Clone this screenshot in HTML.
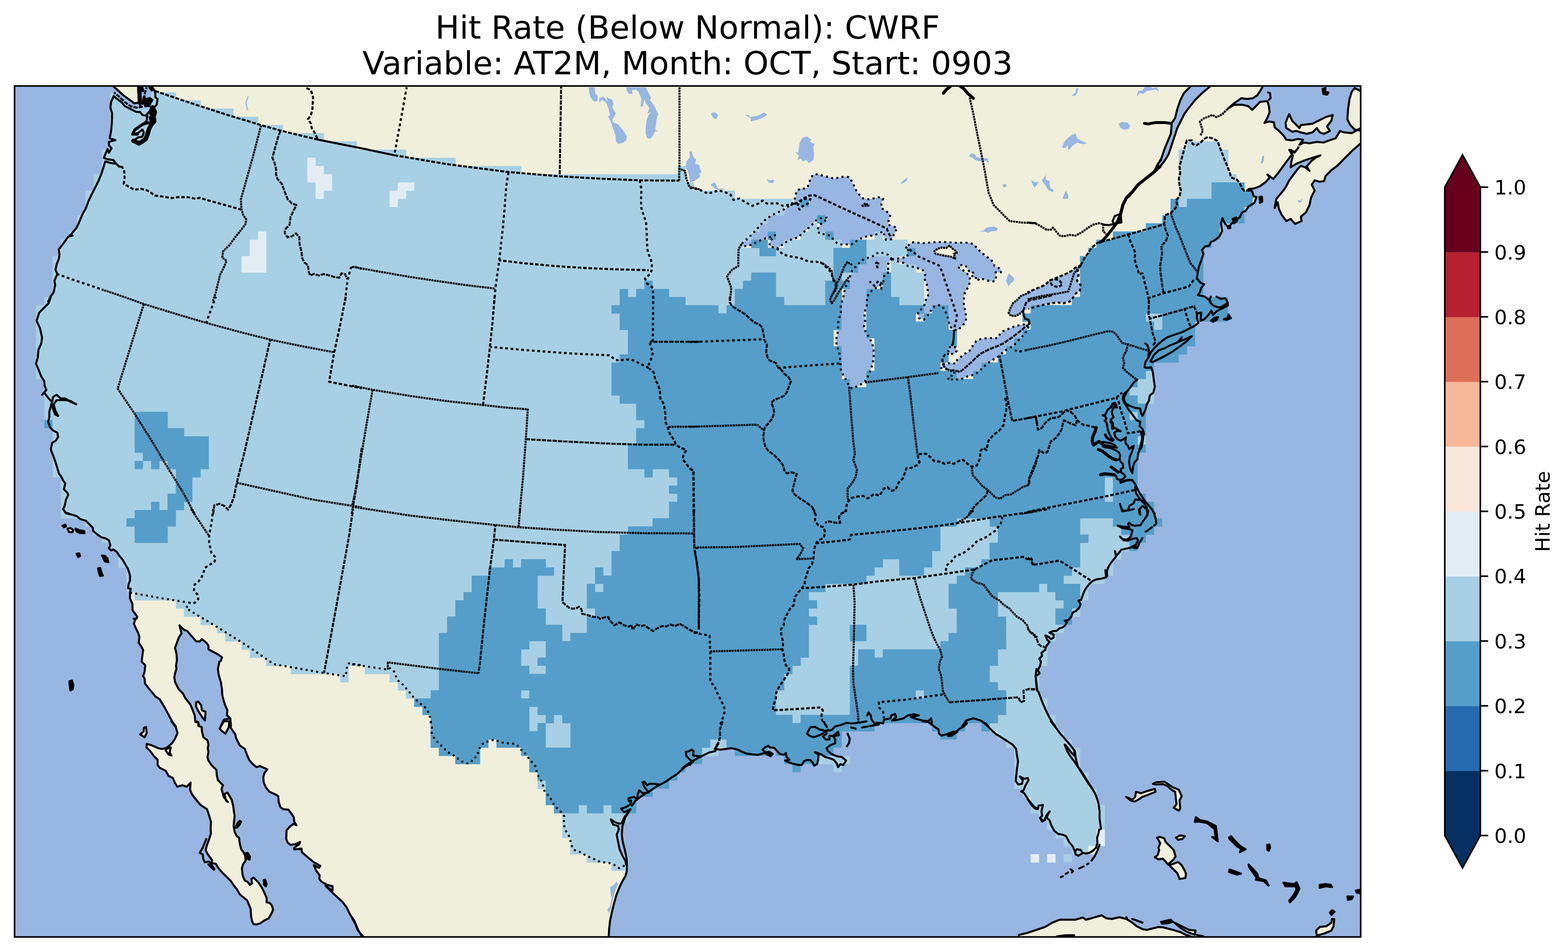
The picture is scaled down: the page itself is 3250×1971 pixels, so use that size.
<!DOCTYPE html>
<html lang="en"><head><meta charset="utf-8"><title>Hit Rate (Below Normal): CWRF</title>
<style>
html,body{margin:0;padding:0;background:#fff;}
body{width:3250px;height:1971px;overflow:hidden;}
svg{display:block;}
text{font-family:"DejaVu Sans","Liberation Sans",sans-serif;fill:#000;}
.cst{fill:none;stroke:#000;stroke-width:4.2;stroke-linejoin:round;stroke-linecap:round;}
.isl{fill:#efefdb;stroke:#000;stroke-width:4.2;stroke-linejoin:round;}
.st{fill:none;stroke:#000;stroke-width:4.2;stroke-dasharray:4.2 6.9;stroke-linejoin:round;}
.sol{fill:none;stroke:#000;stroke-width:4.2;}
.bd{fill:none;stroke:#000;stroke-width:4.2;stroke-dasharray:8.2 2.9;}
</style></head><body>
<svg width="3250" height="1971" viewBox="0 0 3250 1971">
<defs><clipPath id="fr"><rect x="30.2" y="178.2" width="2790.1" height="1763.7"/></clipPath></defs>
<rect width="3250" height="1971" fill="#fff"/>
<text x="1425.2" y="80.2" text-anchor="middle" font-size="66.67">Hit Rate (Below Normal): CWRF</text>
<text x="1425.2" y="153.8" text-anchor="middle" font-size="66.67">Variable: AT2M, Month: OCT, Start: 0903</text>
<rect x="30.2" y="178.2" width="2790.1" height="1763.7" fill="#97b6e1"/>
<g clip-path="url(#fr)">
<path fill="#efefdb" d="M2111.9,1937.8 2130,1933.3 2148.1,1927.2 2166.1,1921.2 2181.2,1912.2 2196.3,1906.1 2214.3,1906.1 2229.4,1906.1 2244.5,1901.6 2250.5,1906.1 2262.5,1903.1 2283.6,1897.1 2292.7,1903.1 2304.7,1904.6 2319.8,1901 2334.8,1904.6 2346.9,1912.2 2355.9,1919.7 2368,1925.7 2377,1927.2 2389,1924.2 2401.1,1921.2 2411.6,1922.1 2431.2,1927.2 2446.3,1931.7 2458.3,1937.8 2467.3,1940.8 2479.4,1946.8 2479.4,1952.8 2111.9,1952.8Z"/>
<path fill="#efefdb" d="M235.7,199.1 240.8,203.6 252.9,212.7 258.9,220.2 271,226.2 283,232.2 290.5,232.2 295.1,238.3 302.6,239.8 310.1,229.2 316.1,217.2 321.6,188.6 361.3,200.6 415.5,218.7 466.7,235.2 539,257.2 584.2,269.9 656.5,287.4 730,303 817.3,320.2 925.8,338.6 1053.8,355.1 1160.7,363.9 1242,368.7 1326.4,372.3 1407.7,372.9 1408.3,349.7 1419.8,354.2 1422.8,370.8 1428.8,387.3 1430,389.5 1448.1,392.5 1460.1,397.9 1467.7,401.5 1478.2,397.9 1490.2,394.9 1502.3,397.9 1514.3,403.9 1520.4,414.5 1532.4,411.4 1544.5,419 1559.5,426.5 1571.6,422 1580.6,416 1589.6,422 1610.7,421.4 1622.8,426.5 1640.8,423.5 1652.9,420.5 1638.8,425.3 1652.2,420.3 1667.3,410.3 1677.3,405.3 1687.4,404.4 1697.4,408.6 1717.5,417.8 1737.6,427.5 1757.7,436.6 1777.7,445.8 1797.8,454.6 1817.9,463.8 1827.9,468.8 1838,473.9 1842.2,483.9 1848,493.1 1876.7,512 1892.8,522.1 1904.8,532.1 1914.9,536.1 1924.9,541.2 1934.9,545.2 1946,550.2 1951,559.2 1955,569.3 1958,580.3 1962,590.4 1965.1,600.4 1969.1,610.4 1972.1,621.5 1976.1,631.5 1979.1,642.6 1983.1,652.6 1982.1,663.7 1979.1,674.7 1977.1,683.7 1977.1,683.7 1977.1,692.8 1976.7,700.8 1975.1,712.9 1972.1,716.9 1967.1,733.9 1959,733.9 1953,743 1954,753 1954,754 1959,763.1 1969.1,768.1 1979.1,767.1 1989.2,771.1 1998.2,764.1 2006.2,757 2014.3,750 2022.3,742 2031.3,733.9 2040.4,728.9 2050.4,723.9 2060.4,719.9 2070.5,715.9 2081.5,710.8 2089.6,704.8 2098.6,698.8 2107.6,691.8 2116.7,684.7 2125.7,676.7 2131.7,673.7 2134.7,671.7 2131.7,662.7 2124.7,660.6 2121.7,652.6 2120.7,644.6 2126.7,627.5 2135.7,621.5 2130,620.2 2160.1,613.3 2190.2,608.7 2214.3,604.2 2220.4,584.6 2226.4,566.6 2239.9,550 2239.9,550 2246,538 2253.5,527.4 2262.5,513.9 2274.6,503.3 2280.6,501.8 2310.7,493.7 2340.8,485.2 2375.5,475.6 2413.1,464.8 2414.6,446.1 2426.7,441.6 2434.2,434 2440.2,425 2437.2,416 2444.8,406.9 2447.8,394.9 2444.8,382.8 2443.3,370.8 2446.3,358.7 2444.8,345.2 2449.3,328.6 2453.8,312 2459.8,291 2470.4,291 2471.9,298.5 2479.4,301.5 2488.4,295.5 2496,288 2503.5,284 2514,287 2523.1,291.9 2527.6,303 2533.6,319.6 2539.6,334.6 2547.2,352.7 2551.7,367.8 2563.7,372.3 2569.8,379.8 2574.3,390.4 2578.8,394.9 2587.8,394.9 2595.4,396.4 2595.4,396.4 2598.4,406.9 2604.4,408.4 2599.9,420.5 2587.8,428 2581.8,437 2574.3,440.1 2569.8,450.6 2560.7,456.6 2551.7,464.2 2547.2,471.7 2539.6,464.2 2533.6,452.1 2530.6,462.7 2533,479.2 2527.6,489.8 2518.6,497.3 2509.5,501.8 2506.5,509.3 2497.5,510.8 2491.4,518.4 2494.5,525.9 2489.9,539.5 2485.4,551.5 2482.4,565.1 2480.9,577.1 2488.4,586.1 2496,589.2 2489.9,596.7 2486.9,605.7 2483,611.7 2497.5,614.8 2505,620.8 2509.5,625 2509.5,615 2506.5,622.5 2509.5,628.6 2517,634.6 2527.6,637.6 2536.6,633.1 2542.7,628.6 2545.1,633.1 2533.6,639.1 2521.6,645.1 2514,652.7 2511,643.6 2503.5,654.2 2496,661.7 2488.4,664.7 2489.9,648.1 2480.9,649.6 2480.9,660.2 2483.9,669.2 2476.4,675.2 2464.3,681.3 2449.3,688.8 2431.2,694.8 2419.2,699.3 2410.1,705.4 2401.1,712.9 2392,721.9 2386,729.5 2380,741.5 2374,750.5 2372.5,761.1 2378.5,762.6 2386,761.1 2389.6,771.6 2391.4,786.7 2393.6,801.7 2390.5,813.8 2383,819.8 2381.5,830.4 2377,837.9 2374,849.9 2355.9,871 2363.4,874 2361.9,883.1 2368,889.1 2371,898.1 2368,908.7 2364.9,919.2 2363.4,929.8 2358.9,940.3 2357.4,952.3 2351.4,958.4 2348.4,967.4 2346.9,979.5 2322.8,1000.5 2334.8,996 2346.9,995.1 2352.9,1003.6 2357.4,1012.6 2361.9,1021.6 2368,1030.7 2374,1039.7 2383,1050.2 2389,1057.8 2393.6,1065 2387.5,1055 2392,1064 2395.7,1076.1 2396.6,1085.1 2392,1089.6 2375.5,1101.7 2368,1115.2 2360.4,1130.3 2354.4,1131.8 2340.8,1135.7 2324.3,1139.3 2318.3,1146.9 2313.7,1151.4 2310.7,1142.3 2313.7,1152.9 2307.7,1160.4 2301.7,1168 2297.2,1175.5 2294.2,1184.5 2295.1,1193.6 2291.1,1181.5 2292.7,1196.6 2283.6,1199 2271.6,1201.1 2264,1204.7 2258,1210.1 2252,1217.7 2247.5,1225.2 2243.9,1234.2 2240.8,1243.3 2235.4,1244.8 2239.9,1252.3 2236.9,1259.8 2230.9,1265.8 2223.4,1269.5 2220.4,1277.9 2214.3,1285.4 2206.8,1286.3 2211.3,1289.9 2207.7,1296 2202.3,1300.5 2196.3,1302 2190.2,1307.4 2182.7,1308 2175.2,1311 2184.2,1315.5 2183.6,1321.6 2178.2,1324.6 2173.7,1320.1 2166.7,1317 2170.7,1326.1 2175.2,1330.6 2169.2,1338.1 2166.1,1347.2 2158.6,1353.2 2160.1,1359.2 2154.1,1365.2 2157.7,1371.3 2155.6,1380.3 2151.1,1389.3 2154.7,1395.4 2149.6,1399.9 2146.6,1401.4 2147.5,1413.4 2148.7,1428.5 2152.6,1434.5 2157.1,1446.6 2163.1,1461.6 2169.2,1475.2 2175.2,1487.2 2182.7,1499.3 2187.2,1505 2178.2,1495 2187.2,1507 2197.8,1520.6 2208.3,1532.7 2218.9,1544.7 2227.9,1556.7 2229.4,1570.3 2233.9,1588.4 2241.4,1598.9 2249,1611 2256.5,1623 2262.5,1632 2267,1639.6 2271.6,1648.6 2275.2,1659.2 2277.6,1669.7 2279.1,1681.7 2279.1,1696.8 2280.6,1707.3 2282.1,1717.9 2278.2,1719.4 2276.1,1729.9 2274,1736 2274.6,1748 2271.6,1757 2265.5,1763.1 2258,1767.6 2250.5,1769.1 2244.5,1767.6 2235.4,1773.6 2229.4,1770.6 2227.9,1764.6 2227.9,1764.6 2223.4,1754 2215.8,1745 2211.3,1736 2209.8,1733 2202.3,1729.9 2193.3,1728.4 2185.7,1722.4 2179.7,1711.9 2175.2,1699.8 2172.2,1697.4 2169.2,1693.8 2173.7,1684.8 2175.8,1681.7 2169.2,1689.3 2164.6,1699.8 2160.1,1702.8 2155.6,1695.3 2160.1,1690.8 2158.6,1681.7 2161.6,1668.2 2152.6,1669.7 2151.1,1677.2 2145.1,1675.7 2139,1669.7 2136.3,1663.7 2128.8,1653.1 2122.8,1644.1 2116.7,1640.2 2121.3,1638.1 2125.8,1627.5 2131.8,1617 2130.3,1612.5 2122.8,1614 2113.7,1609.5 2119.8,1617 2118.3,1624.5 2110.7,1626 2105.3,1618.5 2106.2,1609.5 2107.7,1594.4 2110.1,1577.8 2107.7,1564.3 2106.2,1552.2 2098.7,1543.2 2089.6,1537.2 2077.6,1529.6 2065.5,1522.1 2056.5,1514.6 2044.5,1502.5 2035.4,1495 2044.5,1500.8 2032.4,1493.3 2017.3,1488.7 2002.3,1493.3 2002.3,1495 2003.8,1499.5 1997.8,1505.5 1987.2,1511.6 1981.2,1517.6 1964.6,1525.1 1972.2,1525.1 1984.2,1516.7 1975.2,1516.7 1963.1,1521.5 1951.1,1524.5 1946.6,1520.6 1945.1,1511.6 1936,1505.5 1924,1496.5 1911.9,1495 1931.5,1497.8 1930,1488.7 1924,1494.8 1911.9,1493.3 1899.9,1490.2 1887.8,1486.3 1904.4,1482.7 1893.9,1480.3 1881.8,1482.7 1872.8,1488.7 1860.7,1491.7 1848.7,1493.3 1857.7,1485.7 1854.7,1479.7 1847.2,1482.7 1845.7,1488.7 1832.1,1491.7 1830.6,1499.3 1821.6,1497.8 1812.5,1499.3 1806.5,1491.7 1805,1482.7 1800.5,1476.7 1797.5,1482.7 1779.4,1498 1764.3,1499.5 1755.3,1498 1743.3,1502.5 1731.2,1505.5 1723.7,1513.1 1711.6,1514.6 1713.1,1520.6 1705.6,1526.6 1711.6,1532.7 1719.2,1532.7 1719.2,1525.1 1726.7,1525.1 1731.2,1532.7 1731.2,1540.2 1720.7,1544.7 1713.1,1550.7 1716.1,1556.7 1723.7,1562.8 1734.2,1567.3 1744.8,1568.8 1753.8,1576.3 1747.8,1585.4 1741.7,1583.9 1737.2,1589.9 1734.2,1582.3 1728.2,1574.8 1720.7,1571.8 1710.1,1568.8 1701.1,1562.8 1689,1558.9 1696.6,1564.3 1695.7,1574.8 1693.6,1583.9 1687.5,1586.9 1684.5,1580.8 1680,1575.7 1672.5,1574.8 1666.4,1577.8 1661.9,1585.4 1654.4,1585.4 1643.9,1583 1634.8,1579.9 1627.3,1576.3 1636.3,1574.8 1630.3,1568.8 1628.8,1560.7 1624.3,1564.3 1616.7,1562.8 1610.7,1556.7 1604.7,1549.8 1595.7,1549.2 1592.7,1545.6 1585.1,1549.2 1580.6,1553.7 1586.6,1559.8 1580.6,1561.9 1571.6,1564.3 1559.5,1563.7 1547.5,1561.9 1538.4,1558.3 1529.4,1553.7 1517.3,1550.7 1505.3,1552.2 1493.3,1553.7 1481.2,1552.2 1488.7,1541.7 1484.2,1549.2 1482.7,1556.7 1469.2,1559.8 1457.1,1565.8 1445.1,1571.8 1436,1577.8 1430,1585.4 1413.7,1594.4 1404.7,1603.4 1392.7,1611 1382.1,1618.5 1371.6,1624.5 1362.5,1629 1353.5,1635.1 1367,1626 1355,1624.5 1346,1624.5 1341.4,1627.5 1335.4,1620 1331.8,1621.5 1335.4,1630.5 1339.9,1636.6 1344.5,1642.6 1332.4,1644.1 1324.9,1638.1 1321.9,1645.6 1320.4,1657.7 1314.3,1651.6 1302.3,1654.6 1303.8,1660.7 1308.3,1659.2 1306.8,1666.7 1297.8,1672.7 1287.2,1675.7 1293.3,1683.3 1306.8,1677.2 1300.8,1684.8 1293.3,1695.3 1288.7,1705.8 1284.2,1707.3 1275.2,1704.3 1266.1,1698.3 1270.7,1708.9 1281.2,1711.9 1282.7,1719.4 1278.2,1729.9 1281.2,1745 1284.2,1760.1 1290.2,1773.6 1296.3,1784.2 1297.8,1791.7 1296.8,1793.7 1289.2,1798.2 1281.7,1801.2 1271.2,1793.7 1262.1,1790.7 1250.1,1789.2 1238,1786.8 1226,1780.1 1217,1777.1 1207.9,1771.7 1198.9,1766.6 1188.3,1763.6 1183.8,1754.5 1180.8,1742.5 1177.8,1733.4 1170.3,1721.4 1167.3,1707.8 1168.8,1694.3 1164.2,1686.8 1155.2,1679.2 1147.7,1670.2 1141.7,1659.7 1135.6,1650.6 1128.1,1643.1 1125.1,1632.5 1122.1,1622 1116,1613 1111.5,1602.4 1110,1591.9 1104,1583.7 1096.5,1576.8 1090.4,1566.3 1082.9,1558.7 1075.4,1552.7 1069.4,1544.6 1060.3,1542.8 1045.3,1542.2 1033.2,1539.2 1024.2,1534.7 1013.6,1537.7 1003.1,1540.7 995.6,1546.7 991,1557.2 988,1569.3 979,1575.3 974.5,1582.8 967,1584.3 959.4,1581.9 950.4,1575.9 939.8,1567.8 926.3,1560.3 915.7,1549.7 906.7,1540.7 897.7,1530.1 893.2,1519.6 894.1,1509 891.7,1497 893.2,1507 890.1,1487.7 885.6,1475.7 879.6,1467.2 870.6,1460.6 858.5,1450.1 846.5,1435 834.4,1421.5 822.4,1410.9 816.3,1394.3 807.3,1386.8 802.8,1389.8 729,1378.7 721.8,1376.9 718.8,1379.3 715.7,1403.4 670.6,1396.8 619.4,1387.7 566.7,1378.7 510.9,1340.1 450.7,1302.5 384.4,1262.4 392,1251.3 360.3,1246.2 330.2,1241.3 294.1,1234.7 268.5,1230.2 269.5,1228.2 271,1220.1 265.5,1219.2 266.4,1211.6 269.5,1202.6 269.5,1193.6 268,1187.5 264.9,1178.5 260.4,1171 254.4,1160.4 246.9,1151.4 242.3,1143.9 234.8,1138.7 230.3,1140.8 225.8,1136.3 228.8,1130.3 225.8,1119.8 219.8,1116.1 210.7,1113.7 201.7,1107.7 192.7,1100.2 192.7,1094.2 185.1,1086.6 177.6,1079.1 167,1076.1 159.5,1070.1 150.5,1067 136.9,1064 130.9,1055 135.4,1062.3 130.9,1054.8 133.9,1048.7 136.9,1035.2 141.4,1026.1 139.9,1021.6 132.4,1014.1 135.4,1002 130.9,996 126.4,987 121.9,981 118.9,970.4 114.3,955.4 109.8,943.3 105.3,931.3 108.3,917.7 115.8,913.2 120.4,905.7 118.9,896.6 109.8,892.1 103.8,886.1 99.9,874 102.3,865 102.3,853 106.8,836.4 109.8,846.9 114.3,859 120.4,862 114.3,849.9 111.3,837.9 117.3,829.5 132.4,828.9 144.5,830.4 158,837.9 144.5,831.9 135.4,825.8 126.4,825.8 117.3,818.3 109.8,822.8 108.3,833.4 100.8,825.8 91.7,813.8 87.2,818.3 96.3,807.8 92.7,800.2 91.7,789.7 85.7,780.7 79.7,765.6 74.6,753.6 78.2,741.5 79.7,724.9 85.7,711.4 87.2,699.3 82.7,679.8 75.8,664.7 81.2,648.1 90.2,639.1 100.8,628.6 105.3,615 103.8,616.3 111.3,605.7 114.3,590.7 112.8,581.6 118.9,568.1 114.9,559 117.3,548.5 121.9,536.4 123.4,527.4 121.9,516.9 132.4,503.3 141.4,490.7 150.5,488.3 143,489.8 149,483.7 158,473.2 162.5,464.2 170.1,446.1 177.6,432.5 183.6,416 194.2,394.9 204.7,373.8 210.7,358.7 218.3,334.6 228.8,337.7 215.2,327.1 222.8,309 225.8,316.6 231.2,306.9 225.8,301.5 225.8,294 239.3,290.4 227.3,286.4 230.3,271.4 231.8,253.3 232.4,235.2 228.8,223.2 230.3,211.1 235.7,199.1Z"/>
<path fill="#efefdb" d="M234.8,169 234.8,178.6 255.9,197.6 278.5,214.2 289,212.7 288.4,205.1 286.6,193.1 286,169Z"/>
<path fill="#efefdb" d="M313.1,169 313.1,178.6 316.1,181 321.6,188.6 361.3,202.1 415.5,220.2 466.7,236.7 539,258.7 584.2,271.4 656.5,288.9 730,304.5 817.3,321.7 925.8,340.1 1053.8,356.6 1160.7,365.4 1242,370.2 1326.4,373.8 1407.7,374.4 1408.3,349.7 1419.8,354.2 1422.8,370.8 1428.8,387.3 1430,389.5 1448.1,392.5 1460.1,397.9 1467.7,401.5 1478.2,397.9 1490.2,394.9 1502.3,397.9 1514.3,403.9 1520.4,414.5 1532.4,411.4 1544.5,419 1559.5,426.5 1571.6,422 1580.6,416 1589.6,422 1610.7,421.4 1622.8,426.5 1640.8,423.5 1652.9,420.5 1638.8,425.3 1652.2,420.3 1667.3,410.3 1677.3,405.3 1687.4,404.4 1697.4,408.6 1717.5,417.8 1737.6,427.5 1757.7,436.6 1777.7,445.8 1797.8,454.6 1817.9,463.8 1827.9,468.8 1838,473.9 1842.2,483.9 1848,493.1 1876.7,512 1892.8,522.1 1904.8,532.1 1914.9,536.1 1924.9,541.2 1934.9,545.2 1946,550.2 1951,559.2 1955,569.3 1958,580.3 1962,590.4 1965.1,600.4 1969.1,610.4 1972.1,621.5 1976.1,631.5 1979.1,642.6 1983.1,652.6 1982.1,663.7 1979.1,674.7 1977.1,683.7 1977.1,683.7 1977.1,692.8 1976.7,700.8 1975.1,712.9 1972.1,716.9 1967.1,733.9 1959,733.9 1953,743 1954,753 1954,754 1959,763.1 1969.1,768.1 1979.1,767.1 1989.2,771.1 1998.2,764.1 2006.2,757 2014.3,750 2022.3,742 2031.3,733.9 2040.4,728.9 2050.4,723.9 2060.4,719.9 2070.5,715.9 2081.5,710.8 2089.6,704.8 2098.6,698.8 2107.6,691.8 2116.7,684.7 2125.7,676.7 2131.7,673.7 2134.7,671.7 2131.7,662.7 2124.7,660.6 2121.7,652.6 2120.7,644.6 2126.7,627.5 2135.7,621.5 2130,620.2 2160.1,613.3 2190.2,608.7 2214.3,604.2 2220.4,584.6 2226.4,566.6 2239.9,550 2239.9,550 2246,538 2253.5,527.4 2262.5,513.9 2274.6,503.3 2280.6,501.8 2310.7,493.7 2340.8,485.2 2375.5,475.6 2413.1,464.8 2414.6,446.1 2426.7,441.6 2434.2,434 2440.2,425 2437.2,416 2444.8,406.9 2447.8,394.9 2444.8,382.8 2443.3,370.8 2446.3,358.7 2444.8,345.2 2449.3,328.6 2453.8,312 2459.8,291 2470.4,291 2471.9,298.5 2479.4,301.5 2488.4,295.5 2496,288 2503.5,284 2514,287 2523.1,291.9 2527.6,303 2533.6,319.6 2539.6,334.6 2547.2,352.7 2551.7,367.8 2563.7,372.3 2569.8,379.8 2574.3,390.4 2578.8,394.9 2587.8,394.9 2595.4,396.4 2595.4,396.4 2587.8,391.9 2599.9,390.4 2611.9,385.8 2624,376.8 2631.5,367.8 2627,361.7 2639,370.8 2648.1,360.2 2660.1,343.7 2669.2,331.6 2678.2,319.6 2675.2,310.5 2682.7,316.6 2688.7,309 2690.2,307.5 2690.2,307.5 2684.2,315.1 2672.2,310.5 2679.7,322.6 2676.7,334.6 2675.2,346.7 2687.2,339.2 2702.3,333.1 2720.4,327.1 2736.9,322 2726.4,327.1 2717.3,334.6 2708.3,345.2 2714.3,354.2 2705.3,346.7 2696.3,343.7 2690.2,349.7 2681.2,361.7 2672.2,373.8 2666.1,385.8 2660.1,394.9 2651.1,405.4 2645.1,413 2642,431 2648.1,419 2651.1,434 2657.1,446.1 2666.1,458.1 2675.2,453.6 2684.2,464.2 2697.8,458.1 2696.3,449.1 2706.8,440.1 2714.3,425 2717.3,409.9 2724.9,394.9 2718.9,382.8 2724.9,373.8 2735.4,376.8 2744.5,375.3 2747.5,364.8 2759.5,352.7 2771.6,343.7 2789.6,325.6 2804.7,310.5 2820.4,297 2828.8,297 2828.8,265.4 2820.4,265.4 2801.7,275.9 2786.6,274.4 2777.6,271.4 2768.6,286.4 2755,291 2743,295.5 2729.4,294 2714.3,297 2702.3,295.5 2693.3,300 2693.3,300 2700.8,289.5 2690.2,288 2678.2,291 2666.1,289.5 2660.1,280.4 2651.1,271.4 2642,263.9 2640.5,253.3 2630,251.8 2621,254.8 2627,244.3 2631.5,232.2 2630,220.2 2627,209.6 2611.9,211.1 2602.9,220.2 2595.4,227.7 2587.8,220.2 2575.8,217.2 2557.7,217.2 2545.7,224.7 2545.7,224.7 2557.7,214.2 2572.8,203.6 2584.8,205.1 2596.9,203.6 2605.9,197.6 2611.9,188.6 2616.4,181 2616.4,169Z"/>
<path fill="#efefdb" d="M269.5,1228.2 295.1,1232.7 331.2,1239.3 361.3,1244.2 393,1249.3 385.4,1260.4 451.7,1300.5 511.9,1338.1 567.7,1376.7 620.4,1385.7 671.6,1394.8 716.7,1401.4 719.8,1377.3 722.8,1374.9 730,1376.7 803.8,1387.8 808.3,1384.8 817.3,1392.3 823.4,1408.9 835.4,1419.5 847.5,1433 859.5,1448.1 871.6,1458.6 880.6,1465.2 886.6,1473.7 891.1,1485.7 894.2,1505 892.7,1495 895.1,1507 894.2,1517.6 898.7,1528.1 907.7,1538.7 916.7,1547.7 927.3,1558.3 940.8,1565.8 951.4,1573.9 960.4,1579.9 968,1582.3 975.5,1580.8 980,1573.3 989,1567.3 992,1555.2 996.6,1544.7 1004.1,1538.7 1014.6,1535.7 1025.2,1532.7 1034.2,1537.2 1046.3,1540.2 1061.3,1540.8 1070.4,1542.6 1076.4,1550.7 1083.9,1556.7 1091.4,1564.3 1097.5,1574.8 1105,1581.7 1111,1589.9 1112.5,1600.4 1117,1611 1123.1,1620 1126.1,1630.5 1129.1,1641.1 1136.6,1648.6 1142.7,1657.7 1148.7,1668.2 1156.2,1677.2 1165.2,1684.8 1169.8,1692.3 1168.3,1705.8 1171.3,1719.4 1178.8,1731.4 1181.8,1740.5 1184.8,1752.5 1189.3,1761.6 1199.9,1764.6 1208.9,1769.7 1218,1775.1 1227,1778.1 1239,1784.8 1251.1,1787.2 1263.1,1788.7 1272.2,1791.7 1282.7,1799.2 1290.2,1796.2 1297.8,1791.7 1299.3,1791.7 1299.3,1805.2 1296.3,1815.8 1290.2,1826.3 1284.2,1838.4 1278.2,1853.4 1273.7,1868.5 1269.2,1886.6 1264.6,1907.7 1262.5,1925.7 1261.6,1943.8 1261.6,1952.8 757.1,1952.8 752.9,1943.8 748.4,1937.8 742.3,1927.2 734.8,1909.2 725.8,1895.6 718.3,1880.5 710.7,1870 692.7,1853.4 674.6,1836 689,1845.9 689.6,1836.9 677.6,1833.9 667,1827.8 661.9,1821.8 662.5,1814.3 655,1803.7 650.5,1793.2 661,1798.6 664,1794.7 650.5,1787.2 641.4,1779.6 632.4,1772.1 625.8,1766.1 624.9,1758.6 609.8,1760.7 609.8,1757 620.4,1749.5 621.9,1745 612.8,1749.5 602.3,1751 596.3,1746.5 593.3,1739 593.9,1720.9 600.8,1713.4 608.3,1707.3 614.3,1710.4 609.8,1702.8 608.9,1693.8 603.8,1686.3 597.8,1678.1 587.2,1677.2 581.2,1672.7 577.6,1662.2 576.7,1650.1 569.2,1645.6 558.6,1641.1 551.1,1632 546.6,1621.5 545.7,1611 548.1,1601.9 554.1,1594.4 539,1587.8 531.5,1589.9 522.5,1582.3 516.4,1574.8 511.9,1564.3 507.4,1552.2 496.9,1544.7 489.3,1529.6 487.8,1522.1 477.3,1507 475.8,1495 478.8,1505 477.3,1488.7 470.4,1482.7 471.3,1472.2 466.7,1461.6 463.7,1452.6 460.7,1440.5 460.1,1428.5 457.7,1413.4 453.2,1398.4 451.7,1386.3 454.7,1371.3 457.7,1369.8 460.1,1362.2 451.7,1356.2 442.7,1351.7 432.1,1345.7 432.1,1338.1 427.6,1332.1 418.6,1324.6 414,1329.7 406.5,1329.1 396,1317 388.4,1308 380.9,1305 371.9,1296 371.9,1296 376.4,1312.5 370.4,1321.6 367.3,1330.6 362.8,1342.7 365.8,1354.7 366.7,1368.3 364.9,1380.3 365.8,1386.3 362.8,1395.4 361.3,1404.4 362.8,1413.4 367.3,1422.5 370.4,1428.5 379.4,1437.5 383.9,1446.6 394.5,1460.1 399,1470.7 403.5,1482.7 405,1496.3 411,1497.8 412.5,1505 405,1495 411,1496.5 411,1504 418,1507 418.6,1516.1 421.6,1528.1 430,1534.2 432.1,1543.2 430.6,1550.7 432.1,1558.3 430,1568.8 432.1,1576.3 438.1,1585.4 448.7,1595.9 449.3,1606.4 451.7,1617 462.2,1627.5 459.2,1635.1 463.7,1651.6 472.2,1662.2 468.3,1659.2 465.2,1645.6 471.3,1642.6 480.3,1657.7 483.3,1669.7 484.8,1681.7 486.3,1690.8 485.4,1699.8 484.2,1711.9 486.3,1723.9 490.8,1733 495.4,1736 496.9,1748 499.9,1760.1 504.4,1766.1 508.3,1773.6 508.9,1784.2 504.4,1790.2 501.4,1799.2 502.9,1814.3 507.4,1824.8 513.4,1827.8 518,1833.9 522.5,1830.8 521,1821.8 525.5,1818.8 536,1829.3 542,1838.4 548.1,1850.4 552.6,1861 552.6,1870 558.6,1871.5 563.1,1876 566.1,1885.1 563.1,1892.6 557.1,1903.1 548.1,1907.7 539,1913.7 531.5,1916.1 525.5,1915.2 522.5,1909.2 520.4,1898.6 519.5,1883.6 516.4,1876 511.9,1865.5 505.9,1861 496.9,1853.4 490.8,1842.9 484.8,1835.4 478.8,1826.3 466.7,1814.3 457.7,1805.2 451.7,1797.7 447.2,1790.2 438.1,1788.7 439.6,1782.7 430.6,1770.6 426.1,1761.6 429.1,1751 433.6,1739 437.2,1726.9 436.6,1719.4 437.2,1702.8 433.6,1690.8 429.1,1677.2 415.5,1668.2 406.5,1657.7 397.5,1645.6 393.9,1636.6 395.1,1622.1 386.9,1630.5 377.9,1627.5 367.3,1630.5 362.8,1623 358.3,1612.5 349.3,1608 343.3,1597.4 331.2,1591.4 326.7,1585.4 326.7,1574.8 319.2,1567.3 310.1,1555.2 303.5,1549.2 304.1,1541.7 310.1,1543.2 319.2,1546.8 328.2,1550.7 335.7,1552.2 343.3,1550.7 349.3,1546.8 356.8,1540.2 362.8,1531.1 368,1519.1 364.3,1507 355.3,1495 364.3,1505 358.3,1497.8 349.3,1481.2 340.2,1464.6 331.2,1449.6 322.2,1443.6 316.1,1436 307.1,1425.5 300.5,1416.4 299.6,1405.9 296.6,1401.4 299.6,1392.3 301.1,1378.8 293.6,1371.3 295.1,1359.2 296.6,1347.2 293.6,1341.1 287.5,1332.1 289,1320.1 286,1311 281.5,1302 277.6,1293 280,1284.5 277,1282.4 283,1282.4 284.5,1277.9 280,1271.9 274.6,1264.3 274.6,1252.3 269.5,1240.2 269.5,1228.2Z"/>
<path fill="#97b6e1" d="M1220.4,181 1233,181 1233.6,193.1 1239,199.1 1238.4,209.6 1231.5,210.5 1224,202.1 1221,190.1ZM1242,203.6 1251.1,200.6 1260.1,211.1 1257.1,202.1 1269.2,206.6 1271.6,214.2 1269.2,223.2 1276.7,235.2 1272.2,242.8 1269.2,247.3 1270.7,253.3 1281.2,257.8 1290.2,268.4 1299.3,281.9 1297.8,291 1290.2,296.4 1281.2,297.9 1276.7,292.5 1275.8,280.4 1269.2,262.3 1266.1,251.8 1260.1,241.3 1264.6,239.8 1261.6,226.2 1257.1,214.2 1248.1,206.6 1242,212.7ZM1297.8,181 1338.4,181 1344.5,193.1 1349,202.1 1347.5,208.1 1356.5,220.2 1364,236.7 1361,247.3 1358,268.4 1364,272.9 1358,272 1353.5,280.4 1349,287.3 1341.4,286.4 1338.4,277.4 1338.4,265.4 1339.9,250.3 1344.5,238.3 1350.5,230.7 1341.4,236.7 1346,223.2 1338.4,214.2 1335.4,205.1 1332.4,220.2 1327.9,221.7 1329.4,205.1 1323.4,190.1 1317.3,185.5 1309.8,187 1311.3,194.6 1303.8,194.6 1299.3,188.6ZM1473.1,235.2 1481.2,232.2 1488.7,238.3 1484.2,247.3 1478.2,244.3ZM1544.5,238.3 1552,238.3 1554.1,242.8 1571.6,239.8 1583.6,233.1 1590.5,237.7 1580.6,244.3 1568.6,248.8 1555.9,251.8 1556.5,244.9ZM1588.7,370.2 1594.2,373.8 1604.7,372.3 1602.3,379.8 1592.7,378.3ZM1472.2,382.8 1481.2,377.4 1485.7,385.8 1488.7,391.3 1505.3,391.3 1490.2,394.3 1481.2,390.4ZM1430,313.6 1434.5,325.6 1442,330.1 1440.5,340.7 1448.1,345.2 1454.1,355.7 1448.1,361.7 1452.6,364.8 1442,369.3 1436,376.8 1430,377.4ZM1648.4,315.1 1654.4,316.6 1657.4,295.5 1663.4,285.8 1672.5,282.8 1681.5,289.5 1678.5,294 1689,298.5 1685.4,304.5 1687.5,319.6 1686,331.6 1677,337.7 1671,331.6 1663.4,334.6 1660.4,328.6 1652.9,331.6 1655.9,322.6ZM2008.3,324.1 2012.8,318.1 2020.4,319 2023.4,325.6 2032.4,327.1 2047.5,328.6 2049.9,340.7 2044.5,333.1 2029.4,334 2020.4,331.6 2015.8,327.1ZM1865.2,381.3 1872.8,373.8 1881.8,367.8 1878.8,375.3 1871.3,379.8ZM2027.9,479.8 2038.4,477.7 2044.5,471.7 2059.5,469.6 2068.6,473.2 2065.5,478.6 2053.5,479.8 2047.5,482.8 2041.4,479.8ZM2077.6,382.8 2085.1,381.3 2086.6,385.8 2080.6,388.9ZM2137.8,373.8 2145.4,378.3 2149.9,376.8 2149.9,382.8 2144.5,388.3 2141.4,381.3ZM2091.1,566.6 2102.3,577.1 2097.2,584.6 2090.2,593.7 2085.1,581.6ZM1537.6,504.8 1546,497.3 1554.3,489.8 1561.9,482.2 1569.4,473.9 1576.9,465.5 1584.5,457.1 1592.8,450.4 1602,445.1 1612.1,440.4 1622.1,435.7 1631.3,429.5 1638.8,425.3 1645.5,417 1648.9,406.9 1650.6,396.1 1660.6,390.2 1666.5,391 1673.2,388.5 1677.3,380.2 1679,371 1685.7,361.8 1696.6,360.9 1707.5,365.1 1717.5,366.8 1727.5,370.1 1738.4,368.4 1748.5,365.9 1759.3,367.1 1765.2,375.1 1770.2,385.2 1774.4,394.4 1781.1,403.6 1788.6,411.1 1800.3,413.1 1811.2,411.1 1821.2,408.9 1830.4,411.6 1827.1,422 1826.3,431.2 1836.3,437.1 1845.5,445.1 1842.2,455.5 1840.5,465.5 1849.7,468.8 1858.9,471.4 1856.4,479.7 1851.4,488.9 1848,495.6 1836.3,497.3 1833,488.9 1831.3,479.7 1822.1,483.1 1811.2,488.1 1801.2,488.9 1791.1,491.4 1781.1,495.6 1771.9,502.3 1764.4,506.8 1753.5,506.5 1744.3,506.8 1735.1,504 1727.5,496.5 1720,488.1 1710,485.6 1699.1,484.7 1693.2,476.4 1699.1,467.2 1705.8,459.6 1715.8,453.8 1714.1,451.3 1703.3,451.6 1693.2,455.5 1684.9,463.8 1679,469.7 1670.6,476.9 1663.1,483.9 1654.7,491.1 1644.7,495.3 1633.8,498.1 1625.5,504.8 1616.3,510.7 1610.4,515.7 1602,512.4 1594.5,509.8 1596.2,500.6 1606.2,487.3 1600.4,490.6 1590.3,492.3 1581.1,496.5 1571.9,499.8 1561.9,505.7 1551.8,509 1541,510.7ZM1848.6,537.1 1840.6,528.1 1830.5,524.5 1820.5,523.1 1811.4,530.1 1801.4,533.7 1792.4,535.7 1784.3,541.2 1778.3,548.2 1772.3,554.2 1766.3,560.2 1762.2,572.3 1760.2,580.3 1754.2,590.4 1750.2,604.4 1747.2,618.5 1743.2,630.5 1742.2,640.6 1743.2,650.6 1738.2,660.6 1737.1,671.7 1737.1,682.7 1735.7,692.8 1733.1,703.8 1734.1,714.9 1737.1,723.9 1740.2,733.9 1741.2,745 1742.2,753 1742.2,763.1 1745.2,773.1 1751.2,783.1 1756.2,793.2 1760.2,800 1766.3,805.2 1778.3,800 1785.3,796.2 1792.4,791.2 1798.4,781.1 1802.4,771.5 1806.4,761 1809.4,751 1810.8,739 1810.8,727.9 1809.4,717.3 1805.4,706.8 1800.4,697.8 1794.4,687.8 1790.4,677.7 1793.4,666.7 1792.4,656.6 1791.4,647.6 1796,637.6 1797.4,626.5 1796.4,615.5 1802.4,608.4 1808.4,600.4 1820.5,594.4 1830.5,586.3 1833.5,568.3 1843.6,564.3 1841.6,559.2 1839.6,550.2 1843.6,541.2ZM1848.6,537.1 1860.6,536.1 1870.7,534.5 1880.7,532.1 1882.3,520.1 1881.1,512 1884.7,506 1892.8,502 1912.9,504 1934.9,502 1957,501.6 1981.1,503 2009.2,503 2019.3,507 2025.3,515.1 2034.3,523.1 2044.4,532.1 2053.4,537.1 2058.4,544.2 2061.4,551.2 2069.5,555.2 2075.5,559.2 2074.5,564.3 2063.5,564.3 2064.5,574.3 2061.4,583.3 2051.4,582.7 2039.4,579.3 2031.3,576.3 2025.3,582.3 2023.3,576.3 2014.3,574.3 2019.3,564.3 2012.2,566.3 2005.2,558.2 2001.2,550.2 1993.2,549.2 1985.1,553.2 1995.2,559.2 2003.2,565.3 2010.2,574.3 2010.2,585.3 2006.2,596.4 2000.2,604.4 1998.2,615.5 1997.2,626.5 1999.2,637.6 2001.2,648.6 2003.2,658.6 2000.2,668.7 1992.2,677.7 1985.1,684.7 1977.1,683.7 1969.1,676.7 1965.1,660.6 1961,649.6 1957,639.6 1949,632.5 1939,632.9 1930.9,640.6 1926.9,648.6 1920.9,655.6 1914.9,662.7 1904.8,659.6 1902.8,647.6 1909.8,640.6 1915.9,632.5 1918.9,621.5 1923.9,614.5 1922.9,603.4 1921.9,592.4 1917.9,582.3 1914.9,573.3 1917.9,569.3 1912.9,560.2 1902.8,556.2 1892.8,553.2 1881.7,551.2 1873.7,545.2 1862.7,542.2 1852.6,538.2ZM1967.1,720.9 1971.1,717.9 1981.1,719.9 1983.1,726.9 1979.1,732.9 1969.1,733.9 1965.1,726.9ZM1954,754 1961,754 1972.1,752 1981.1,754 1984.1,746 1991.2,740 2000.2,732.9 2009.2,727.9 2012.2,720.9 2017.3,715.9 2023.3,706.8 2033.3,702.8 2045.4,700.8 2055.4,700.8 2067.5,700.8 2071.5,693.8 2078.5,686.7 2089.6,681.7 2099.6,677.7 2109.6,674.7 2120.7,672.7 2129.7,670.7 2135.7,671.7 2129.7,681.7 2124.7,690.8 2117.7,698.8 2109.6,706.8 2101.6,715.9 2090.6,722.9 2081.5,726.9 2071.5,738 2060.4,744 2051.4,750 2042.4,757 2034.3,765.1 2027.3,772.1 2017.3,777.1 2005.2,780.1 1997.2,784.1 1987.1,787.1 1976.1,785.1 1967.1,789.2 1965.1,781.1 1978.1,777.1 1978.1,768.1 1967.1,769.1 1959,763.1 1951,763.1ZM2090.6,567.3 2096.6,573.3 2102.6,579.3 2099.6,584.3 2093.6,587.3 2090.6,593.4 2088.6,587.3 2085.1,583.9 2089.6,579.3ZM2467.3,175 2508,175 2491.4,193.1 2476.4,208.1 2464.3,223.2 2455.3,235.2 2446.3,253.3 2440.2,265.4 2434.2,283.4 2428.2,301.5 2422.2,319.6 2413.1,334.6 2404.1,345.2 2392,357.2 2398.1,343.7 2407.1,328.6 2413.1,310.5 2419.2,295.5 2426.7,277.4 2428.2,262.3 2428.2,255.7 2435.7,244.3 2440.2,226.2 2446.3,208.1 2453.8,193.1ZM2318.3,256.3 2325.8,252.7 2337.8,254.8 2342.3,260.8 2339.3,266.9 2330.3,269 2322.8,265.4ZM2201.4,306 2205.3,295.5 2211.3,288 2220.4,280.4 2229.4,276.8 2232.4,286.4 2239.9,291 2253.5,297 2244.5,299.1 2232.4,295.5 2223.4,301.5 2218.9,307.5 2214.3,312 2212.8,300 2208.3,306.9ZM2137.5,373.8 2145.1,377.4 2154.1,377.4 2148.1,382.2 2144.5,388.9 2140.5,382.8ZM2159.2,373.8 2168.6,362.3 2166.7,372.3 2175.2,375.3 2176.7,388.9 2184.8,394.9 2181.2,397.9 2172.2,393.4 2166.1,382.8ZM2202.3,411.4 2208.9,394.9 2214.3,403.9 2213.7,412.3ZM2221.9,197.6 2229.4,191.6 2230.9,182.5 2235.4,184 2232.4,193.1 2227.9,199.1ZM2355.9,200.6 2358.9,188.6 2368,187 2374,179.5 2383,179.5 2389,182.5 2398.1,181 2402.6,190.1 2395.1,185.5 2386,187 2377,188.6 2369.5,194.6 2361.9,193.1ZM2613.4,337.7 2616.4,324.1 2620.4,322.6 2619.5,333.1 2615.5,339.2ZM2689.6,414.5 2694.8,416 2699.3,411.4 2696.9,419 2691.7,419.6ZM2119.7,644.6 2114.7,649.6 2105.6,654.6 2095.6,654.6 2090.6,648.6 2094.6,637.6 2099.6,628.5 2108.6,621.5 2115.7,613.5 2125.7,609.4 2135.7,605.4 2130,605.7 2148.1,598.2 2166.1,590.7 2175.2,581.6 2190.2,575.6 2205.3,569.6 2220.4,562 2229.4,554.5 2239.9,550 2239.9,550 2232.4,563.6 2235.4,569.6 2232.4,581.6 2239.9,590.7 2238.4,602.7 2229.4,608.7 2223.4,617.8 2217.3,625 2205.3,628.3 2190.2,626.8 2163.9,631.5 2143.8,636.5 2131.7,640.6ZM1264.6,1838.4 1272.2,1833.9 1278.2,1827.8 1281.2,1832.3 1276.7,1841.4 1272.2,1856.4 1269.2,1868.5 1266.1,1883.6 1263.1,1892.6 1258.6,1886.6 1264.6,1877.5 1267.7,1861 1265.5,1850.4ZM1422.8,334.6 1430.3,325.6 1428.8,315.1 1433.3,313.6 1437.8,327.1 1443.3,330.1 1440.8,339.2 1449.9,342.2 1449.9,367.8 1437.8,376.2 1428.8,370.8 1426.4,355.7 1421.3,346.7Z"/>
<path fill="none" stroke="#97b6e1" stroke-width="2.5" stroke-linecap="round" d="M514,200.6 509.5,214.2 513.4,227.7"/>
<path fill="#efefdb" d="M1944,515.1 1953,513.1 1961,514.1 1968.1,509 1975.1,516.1 1981.1,520.1 1983.1,524.1 1977.1,526.1 1980.1,536.1 1971.1,532.1 1959,530.1 1949,528.1 1939,526.1 1936.9,520.1Z"/>
<path fill="#a7d0e4" d="M228.1,191.2h17.6v17.6h-17.6zM313.2,191.2h51.7v17.6h-51.7zM228.1,208.1h34.7v17.6h-34.7zM313.2,208.1h102.8v17.6h-102.8zM228.1,225.1h256.2v17.6h-256.2zM228.1,242.1h307.3v17.6h-307.3zM228.1,259.1h358.4v17.6h-358.4zM228.1,276.1h443.6v17.6h-443.6zM228.1,293h511.8v17.6h-511.8zM2460.1,293h68.8v17.6h-68.8zM211,310h631v17.6h-631zM2443.1,310h102.8v17.6h-102.8zM211,327h733.3v17.6h-733.3zM2443.1,327h102.8v17.6h-102.8zM211,344h869.6v17.6h-869.6zM1403.7,344h17.6v17.6h-17.6zM2443.1,344h102.8v17.6h-102.8zM194,361h1227.4v17.6h-1227.4zM2443.1,361h119.9v17.6h-119.9zM194,377.9h1244.4v17.6h-1244.4zM2443.1,377.9h136.9v17.6h-136.9zM176.9,394.9h1346.6v17.6h-1346.6zM2443.1,394.9h153.9v17.6h-153.9zM176.9,411.9h1465.9v17.6h-1465.9zM1659.3,411.9h17.6v17.6h-17.6zM2426,411.9h171v17.6h-171zM176.9,428.9h1448.9v17.6h-1448.9zM2426,428.9h153.9v17.6h-153.9zM159.9,445.9h1431.8v17.6h-1431.8zM1693.4,445.9h17.6v17.6h-17.6zM2409,445.9h171v17.6h-171zM159.9,462.8h1414.8v17.6h-1414.8zM1676.3,462.8h17.6v17.6h-17.6zM2374.9,462.8h153.9v17.6h-153.9zM142.9,479.8h1414.8v17.6h-1414.8zM1591.1,479.8h17.6v17.6h-17.6zM1659.3,479.8h68.8v17.6h-68.8zM1812.6,479.8h17.6v17.6h-17.6zM2306.8,479.8h222.1v17.6h-222.1zM125.8,496.8h1414.8v17.6h-1414.8zM1557.1,496.8h34.7v17.6h-34.7zM1625.2,496.8h119.9v17.6h-119.9zM1761.5,496.8h119.9v17.6h-119.9zM2272.7,496.8h239.1v17.6h-239.1zM125.8,513.8h1772.6v17.6h-1772.6zM2255.6,513.8h239.1v17.6h-239.1zM108.8,530.8h1687.4v17.6h-1687.4zM1846.7,530.8h17.6v17.6h-17.6zM2238.6,530.8h256.2v17.6h-256.2zM108.8,547.7h1670.4v17.6h-1670.4zM1846.7,547.7h51.7v17.6h-51.7zM2238.6,547.7h256.2v17.6h-256.2zM108.8,564.7h1653.3v17.6h-1653.3zM1829.7,564.7h85.8v17.6h-85.8zM2238.6,564.7h256.2v17.6h-256.2zM108.8,581.7h1653.3v17.6h-1653.3zM1829.7,581.7h85.8v17.6h-85.8zM2238.6,581.7h256.2v17.6h-256.2zM108.8,598.7h1636.3v17.6h-1636.3zM1795.6,598.7h119.9v17.6h-119.9zM2238.6,598.7h256.2v17.6h-256.2zM91.7,615.6h1653.3v17.6h-1653.3zM1795.6,615.6h119.9v17.6h-119.9zM2221.6,615.6h324.3v17.6h-324.3zM74.7,632.6h1670.4v17.6h-1670.4zM1795.6,632.6h119.9v17.6h-119.9zM1931.9,632.6h34.7v17.6h-34.7zM2136.4,632.6h409.5v17.6h-409.5zM74.7,649.6h1670.4v17.6h-1670.4zM1795.6,649.6h102.8v17.6h-102.8zM1914.9,649.6h51.7v17.6h-51.7zM2119.3,649.6h426.6v17.6h-426.6zM74.7,666.6h1670.4v17.6h-1670.4zM1795.6,666.6h171v17.6h-171zM2136.4,666.6h341.4v17.6h-341.4zM74.7,683.6h1653.3v17.6h-1653.3zM1795.6,683.6h188v17.6h-188zM2119.3,683.6h358.4v17.6h-358.4zM74.7,700.5h1653.3v17.6h-1653.3zM1812.6,700.5h171v17.6h-171zM2102.3,700.5h375.4v17.6h-375.4zM74.7,717.5h1670.4v17.6h-1670.4zM1812.6,717.5h153.9v17.6h-153.9zM2085.3,717.5h375.4v17.6h-375.4zM74.7,734.5h1670.4v17.6h-1670.4zM1812.6,734.5h153.9v17.6h-153.9zM2068.2,734.5h375.4v17.6h-375.4zM74.7,751.5h1670.4v17.6h-1670.4zM1812.6,751.5h136.9v17.6h-136.9zM2034.1,751.5h358.4v17.6h-358.4zM74.7,768.5h1670.4v17.6h-1670.4zM1795.6,768.5h188v17.6h-188zM2017.1,768.5h375.4v17.6h-375.4zM91.7,785.4h1670.4v17.6h-1670.4zM1795.6,785.4h597v17.6h-597zM91.7,802.4h2300.8v17.6h-2300.8zM91.7,819.4h2300.8v17.6h-2300.8zM91.7,836.4h2283.8v17.6h-2283.8zM91.7,853.4h2283.8v17.6h-2283.8zM91.7,870.3h2283.8v17.6h-2283.8zM108.8,887.3h2266.7v17.6h-2266.7zM108.8,904.3h2266.7v17.6h-2266.7zM108.8,921.3h2266.7v17.6h-2266.7zM108.8,938.3h2249.7v17.6h-2249.7zM108.8,955.2h2249.7v17.6h-2249.7zM108.8,972.2h2249.7v17.6h-2249.7zM125.8,989.2h2232.7v17.6h-2232.7zM125.8,1006.2h2232.7v17.6h-2232.7zM125.8,1023.1h2249.7v17.6h-2249.7zM125.8,1040.1h2266.7v17.6h-2266.7zM125.8,1057.1h2266.7v17.6h-2266.7zM176.9,1074.1h2232.7v17.6h-2232.7zM194,1091.1h2198.6v17.6h-2198.6zM211,1108h2164.5v17.6h-2164.5zM228.1,1125h2130.4v17.6h-2130.4zM245.1,1142h2079.3v17.6h-2079.3zM245.1,1159h2062.3v17.6h-2062.3zM262.1,1176h2045.2v17.6h-2045.2zM262.1,1192.9h2028.2v17.6h-2028.2zM262.1,1209.9h1994.1v17.6h-1994.1zM279.2,1226.9h1977.1v17.6h-1977.1zM364.4,1243.9h1874.8v17.6h-1874.8zM381.4,1260.9h1857.8v17.6h-1857.8zM415.5,1277.8h1806.7v17.6h-1806.7zM449.6,1294.8h1755.6v17.6h-1755.6zM466.6,1311.8h1721.5v17.6h-1721.5zM500.7,1328.8h1670.4v17.6h-1670.4zM517.7,1345.8h1653.3v17.6h-1653.3zM551.8,1362.7h1619.3v17.6h-1619.3zM602.9,1379.7h119.9v17.6h-119.9zM756.3,1379.7h1397.8v17.6h-1397.8zM705.1,1396.7h17.6v17.6h-17.6zM807.4,1396.7h1346.6v17.6h-1346.6zM824.4,1413.7h1329.6v17.6h-1329.6zM841.4,1430.6h1312.6v17.6h-1312.6zM858.5,1447.6h1312.6v17.6h-1312.6zM875.5,1464.6h1295.5v17.6h-1295.5zM892.6,1481.6h1295.5v17.6h-1295.5zM892.6,1498.6h920.7v17.6h-920.7zM1931.9,1498.6h68.8v17.6h-68.8zM2034.1,1498.6h153.9v17.6h-153.9zM892.6,1515.5h852.5v17.6h-852.5zM1949,1515.5h34.7v17.6h-34.7zM2068.2,1515.5h136.9v17.6h-136.9zM892.6,1532.5h119.9v17.6h-119.9zM1028.9,1532.5h716.2v17.6h-716.2zM2085.3,1532.5h136.9v17.6h-136.9zM909.6,1549.5h85.8v17.6h-85.8zM1080,1549.5h409.5v17.6h-409.5zM1523,1549.5h68.8v17.6h-68.8zM1608.2,1549.5h119.9v17.6h-119.9zM2102.3,1549.5h136.9v17.6h-136.9zM943.7,1566.5h51.7v17.6h-51.7zM1097,1566.5h358.4v17.6h-358.4zM1625.2,1566.5h136.9v17.6h-136.9zM2102.3,1566.5h136.9v17.6h-136.9zM1097,1583.5h324.3v17.6h-324.3zM1642.3,1583.5h17.6v17.6h-17.6zM1727.5,1583.5h17.6v17.6h-17.6zM2102.3,1583.5h136.9v17.6h-136.9zM1114.1,1600.4h290.3v17.6h-290.3zM2102.3,1600.4h153.9v17.6h-153.9zM1114.1,1617.4h273.2v17.6h-273.2zM2102.3,1617.4h153.9v17.6h-153.9zM1131.1,1634.4h222.1v17.6h-222.1zM2119.3,1634.4h153.9v17.6h-153.9zM1131.1,1651.4h188v17.6h-188zM2136.4,1651.4h136.9v17.6h-136.9zM1148.1,1668.4h171v17.6h-171zM2136.4,1668.4h153.9v17.6h-153.9zM1165.2,1685.3h136.9v17.6h-136.9zM2153.4,1685.3h136.9v17.6h-136.9zM1165.2,1702.3h119.9v17.6h-119.9zM2170.5,1702.3h119.9v17.6h-119.9zM1165.2,1719.3h119.9v17.6h-119.9zM2187.5,1719.3h102.8v17.6h-102.8zM1182.2,1736.3h102.8v17.6h-102.8zM2204.5,1736.3h85.8v17.6h-85.8zM1182.2,1753.3h102.8v17.6h-102.8zM2221.6,1753.3h51.7v17.6h-51.7zM1216.3,1770.2h85.8v17.6h-85.8zM2136.4,1770.2h17.6v17.6h-17.6zM2170.5,1770.2h17.6v17.6h-17.6zM2204.5,1770.2h17.6v17.6h-17.6zM1267.4,1787.2h34.7v17.6h-34.7z"/>
<path fill="#559ec9" d="M2511.2,377.9h68.5v17.3h-68.5zM2511.2,394.9h85.5v17.3h-85.5zM1659.3,411.9h17.3v17.3h-17.3zM2426,411.9h17.3v17.3h-17.3zM2460.1,411.9h136.6v17.3h-136.6zM2426,428.9h153.6v17.3h-153.6zM1693.4,445.9h17.3v17.3h-17.3zM2409,445.9h170.7v17.3h-170.7zM2374.9,462.8h153.6v17.3h-153.6zM1591.1,479.8h17.3v17.3h-17.3zM1710.4,479.8h17.3v17.3h-17.3zM2306.8,479.8h221.8v17.3h-221.8zM1557.1,496.8h34.4v17.3h-34.4zM1761.5,496.8h34.4v17.3h-34.4zM2272.7,496.8h238.8v17.3h-238.8zM1574.1,513.8h34.4v17.3h-34.4zM1727.5,513.8h68.5v17.3h-68.5zM1880.8,513.8h17.3v17.3h-17.3zM2255.6,513.8h238.8v17.3h-238.8zM1727.5,530.8h68.5v17.3h-68.5zM2238.6,530.8h255.9v17.3h-255.9zM1727.5,547.7h51.4v17.3h-51.4zM2238.6,547.7h255.9v17.3h-255.9zM1557.1,564.7h51.4v17.3h-51.4zM1727.5,564.7h17.3v17.3h-17.3zM1829.7,564.7h17.3v17.3h-17.3zM2238.6,564.7h255.9v17.3h-255.9zM1335.6,581.7h17.3v17.3h-17.3zM1540,581.7h68.5v17.3h-68.5zM1710.4,581.7h51.4v17.3h-51.4zM1829.7,581.7h17.3v17.3h-17.3zM2238.6,581.7h255.9v17.3h-255.9zM1284.4,598.7h17.3v17.3h-17.3zM1318.5,598.7h68.5v17.3h-68.5zM1523,598.7h85.5v17.3h-85.5zM1710.4,598.7h34.4v17.3h-34.4zM1795.6,598.7h51.4v17.3h-51.4zM2238.6,598.7h255.9v17.3h-255.9zM1284.4,615.6h136.6v17.3h-136.6zM1523,615.6h102.5v17.3h-102.5zM1710.4,615.6h34.4v17.3h-34.4zM1795.6,615.6h68.5v17.3h-68.5zM2221.6,615.6h324v17.3h-324zM1267.4,632.6h221.8v17.3h-221.8zM1505.9,632.6h238.8v17.3h-238.8zM1795.6,632.6h119.6v17.3h-119.6zM1931.9,632.6h34.4v17.3h-34.4zM2136.4,632.6h409.2v17.3h-409.2zM1284.4,649.6h460.3v17.3h-460.3zM1795.6,649.6h102.5v17.3h-102.5zM1914.9,649.6h51.4v17.3h-51.4zM2119.3,649.6h255.9v17.3h-255.9zM2409,649.6h136.6v17.3h-136.6zM1284.4,666.6h460.3v17.3h-460.3zM1795.6,666.6h170.7v17.3h-170.7zM2136.4,666.6h255.9v17.3h-255.9zM2409,666.6h68.5v17.3h-68.5zM1301.5,683.6h426.3v17.3h-426.3zM1795.6,683.6h187.7v17.3h-187.7zM2119.3,683.6h358.1v17.3h-358.1zM1301.5,700.5h426.3v17.3h-426.3zM1812.6,700.5h170.7v17.3h-170.7zM2102.3,700.5h375.1v17.3h-375.1zM1301.5,717.5h443.3v17.3h-443.3zM1812.6,717.5h153.6v17.3h-153.6zM2085.3,717.5h375.1v17.3h-375.1zM1284.4,734.5h460.3v17.3h-460.3zM1812.6,734.5h153.6v17.3h-153.6zM2068.2,734.5h375.1v17.3h-375.1zM1267.4,751.5h477.4v17.3h-477.4zM1812.6,751.5h136.6v17.3h-136.6zM2034.1,751.5h358.1v17.3h-358.1zM1267.4,768.5h477.4v17.3h-477.4zM1795.6,768.5h187.7v17.3h-187.7zM2017.1,768.5h358.1v17.3h-358.1zM1267.4,785.4h494.4v17.3h-494.4zM1795.6,785.4h562.6v17.3h-562.6zM1267.4,802.4h1073.7v17.3h-1073.7zM1284.4,819.4h1073.7v17.3h-1073.7zM1318.5,836.4h1056.7v17.3h-1056.7zM279.2,853.4h68.5v17.3h-68.5zM1318.5,853.4h1022.6v17.3h-1022.6zM2357.9,853.4h17.3v17.3h-17.3zM91.7,870.3h17.3v17.3h-17.3zM279.2,870.3h68.5v17.3h-68.5zM1335.6,870.3h1039.7v17.3h-1039.7zM279.2,887.3h102.5v17.3h-102.5zM1318.5,887.3h1056.7v17.3h-1056.7zM279.2,904.3h153.6v17.3h-153.6zM1318.5,904.3h1039.7v17.3h-1039.7zM279.2,921.3h153.6v17.3h-153.6zM1301.5,921.3h1073.7v17.3h-1073.7zM296.2,938.3h136.6v17.3h-136.6zM1301.5,938.3h1056.7v17.3h-1056.7zM279.2,955.2h17.3v17.3h-17.3zM313.2,955.2h17.3v17.3h-17.3zM347.3,955.2h85.5v17.3h-85.5zM1301.5,955.2h1056.7v17.3h-1056.7zM364.4,972.2h51.4v17.3h-51.4zM1335.6,972.2h17.3v17.3h-17.3zM1386.7,972.2h971.5v17.3h-971.5zM364.4,989.2h34.4v17.3h-34.4zM1403.7,989.2h886.3v17.3h-886.3zM2306.8,989.2h51.4v17.3h-51.4zM364.4,1006.2h34.4v17.3h-34.4zM1386.7,1006.2h903.3v17.3h-903.3zM2306.8,1006.2h51.4v17.3h-51.4zM347.3,1023.1h51.4v17.3h-51.4zM1403.7,1023.1h886.3v17.3h-886.3zM2306.8,1023.1h68.5v17.3h-68.5zM313.2,1040.1h17.3v17.3h-17.3zM347.3,1040.1h34.4v17.3h-34.4zM1386.7,1040.1h1005.6v17.3h-1005.6zM279.2,1057.1h85.5v17.3h-85.5zM1386.7,1057.1h1005.6v17.3h-1005.6zM262.1,1074.1h102.5v17.3h-102.5zM1352.6,1074.1h630.7v17.3h-630.7zM2051.2,1074.1h187.7v17.3h-187.7zM2306.8,1074.1h102.5v17.3h-102.5zM279.2,1091.1h68.5v17.3h-68.5zM1301.5,1091.1h647.8v17.3h-647.8zM2068.2,1091.1h170.7v17.3h-170.7zM2323.8,1091.1h68.5v17.3h-68.5zM279.2,1108h68.5v17.3h-68.5zM1284.4,1108h664.8v17.3h-664.8zM2068.2,1108h187.7v17.3h-187.7zM2340.8,1108h34.4v17.3h-34.4zM1284.4,1125h664.8v17.3h-664.8zM2051.2,1125h187.7v17.3h-187.7zM2340.8,1125h17.3v17.3h-17.3zM1267.4,1142h664.8v17.3h-664.8zM2051.2,1142h187.7v17.3h-187.7zM1045.9,1159h17.3v17.3h-17.3zM1080,1159h51.4v17.3h-51.4zM1267.4,1159h562.6v17.3h-562.6zM1863.8,1159h68.5v17.3h-68.5zM2034.1,1159h204.8v17.3h-204.8zM1011.8,1176h136.6v17.3h-136.6zM1233.3,1176h17.3v17.3h-17.3zM1267.4,1176h545.5v17.3h-545.5zM1863.8,1176h51.4v17.3h-51.4zM2000.1,1176h221.8v17.3h-221.8zM977.8,1192.9h136.6v17.3h-136.6zM1233.3,1192.9h562.6v17.3h-562.6zM1983,1192.9h221.8v17.3h-221.8zM977.8,1209.9h136.6v17.3h-136.6zM1216.3,1209.9h17.3v17.3h-17.3zM1250.4,1209.9h460.3v17.3h-460.3zM1966,1209.9h187.7v17.3h-187.7zM2170.5,1209.9h68.5v17.3h-68.5zM960.7,1226.9h153.6v17.3h-153.6zM1216.3,1226.9h460.3v17.3h-460.3zM1966,1226.9h102.5v17.3h-102.5zM2187.5,1226.9h51.4v17.3h-51.4zM943.7,1243.9h170.7v17.3h-170.7zM1216.3,1243.9h477.4v17.3h-477.4zM1966,1243.9h102.5v17.3h-102.5zM2204.5,1243.9h34.4v17.3h-34.4zM943.7,1260.9h187.7v17.3h-187.7zM1233.3,1260.9h443.3v17.3h-443.3zM1983,1260.9h85.5v17.3h-85.5zM2187.5,1260.9h34.4v17.3h-34.4zM926.6,1277.8h204.8v17.3h-204.8zM1216.3,1277.8h477.4v17.3h-477.4zM1983,1277.8h102.5v17.3h-102.5zM2187.5,1277.8h34.4v17.3h-34.4zM926.6,1294.8h238.8v17.3h-238.8zM1216.3,1294.8h460.3v17.3h-460.3zM1761.5,1294.8h34.4v17.3h-34.4zM1983,1294.8h102.5v17.3h-102.5zM909.6,1311.8h255.9v17.3h-255.9zM1182.2,1311.8h494.4v17.3h-494.4zM1761.5,1311.8h34.4v17.3h-34.4zM1966,1311.8h119.6v17.3h-119.6zM909.6,1328.8h187.7v17.3h-187.7zM1131.1,1328.8h545.5v17.3h-545.5zM1949,1328.8h136.6v17.3h-136.6zM909.6,1345.8h170.7v17.3h-170.7zM1131.1,1345.8h545.5v17.3h-545.5zM1778.6,1345.8h34.4v17.3h-34.4zM1829.7,1345.8h238.8v17.3h-238.8zM909.6,1362.7h170.7v17.3h-170.7zM1114.1,1362.7h545.5v17.3h-545.5zM1778.6,1362.7h290v17.3h-290zM909.6,1379.7h187.7v17.3h-187.7zM1131.1,1379.7h511.5v17.3h-511.5zM1761.5,1379.7h290v17.3h-290zM909.6,1396.7h715.9v17.3h-715.9zM1761.5,1396.7h290v17.3h-290zM909.6,1413.7h715.9v17.3h-715.9zM1761.5,1413.7h307v17.3h-307zM892.6,1430.6h187.7v17.3h-187.7zM1097,1430.6h511.5v17.3h-511.5zM1761.5,1430.6h136.6v17.3h-136.6zM1914.9,1430.6h170.7v17.3h-170.7zM858.5,1447.6h750v17.3h-750zM1761.5,1447.6h324v17.3h-324zM875.5,1464.6h221.8v17.3h-221.8zM1114.1,1464.6h494.4v17.3h-494.4zM1761.5,1464.6h324v17.3h-324zM892.6,1481.6h204.8v17.3h-204.8zM1131.1,1481.6h17.3v17.3h-17.3zM1165.2,1481.6h477.4v17.3h-477.4zM1659.3,1481.6h409.2v17.3h-409.2zM892.6,1498.6h204.8v17.3h-204.8zM1114.1,1498.6h17.3v17.3h-17.3zM1182.2,1498.6h630.7v17.3h-630.7zM1931.9,1498.6h68.5v17.3h-68.5zM2034.1,1498.6h17.3v17.3h-17.3zM892.6,1515.5h238.8v17.3h-238.8zM1182.2,1515.5h562.6v17.3h-562.6zM1949,1515.5h34.4v17.3h-34.4zM892.6,1532.5h119.6v17.3h-119.6zM1028.9,1532.5h102.5v17.3h-102.5zM1182.2,1532.5h290v17.3h-290zM1505.9,1532.5h238.8v17.3h-238.8zM909.6,1549.5h85.5v17.3h-85.5zM1080,1549.5h375.1v17.3h-375.1zM1523,1549.5h68.5v17.3h-68.5zM1608.2,1549.5h119.6v17.3h-119.6zM943.7,1566.5h51.4v17.3h-51.4zM1097,1566.5h358.1v17.3h-358.1zM1625.2,1566.5h68.5v17.3h-68.5zM1097,1583.5h324v17.3h-324zM1642.3,1583.5h17.3v17.3h-17.3zM1114.1,1600.4h290v17.3h-290zM1131.1,1617.4h255.9v17.3h-255.9zM1131.1,1634.4h221.8v17.3h-221.8zM1131.1,1651.4h187.7v17.3h-187.7zM1148.1,1668.4h51.4v17.3h-51.4zM1216.3,1668.4h34.4v17.3h-34.4zM1267.4,1668.4h51.4v17.3h-51.4z"/>
<path fill="#e2edf3" d="M637,327h17.3v17.3h-17.3zM637,344h34.4v17.3h-34.4zM637,361h51.4v17.3h-51.4zM654,377.9h34.4v17.3h-34.4zM824.4,377.9h34.4v17.3h-34.4zM654,394.9h17.3v17.3h-17.3zM807.4,394.9h34.4v17.3h-34.4zM807.4,411.9h17.3v17.3h-17.3zM534.7,479.8h17.3v17.3h-17.3zM517.7,496.8h34.4v17.3h-34.4zM517.7,513.8h34.4v17.3h-34.4zM500.7,530.8h51.4v17.3h-51.4zM500.7,547.7h51.4v17.3h-51.4zM2272.7,1719.3h17.3v17.3h-17.3zM2272.7,1736.3h17.3v17.3h-17.3zM2255.6,1753.3h17.3v17.3h-17.3zM2136.4,1770.2h17.3v17.3h-17.3zM2170.5,1770.2h17.3v17.3h-17.3z"/>
<path class="isl" d="M302.6,205.1 310.1,203.6 314.6,208.1 310.1,212.7 304.1,211.1ZM308.6,232.2 317.7,226.2 320.7,235.2 313.1,238.3ZM310.1,242.8 319.2,241.3 320.7,251.8 313.1,254.8ZM2672.2,236.7 2678.2,250.3 2687.2,259.3 2693.3,265.4 2696.3,259.3 2708.3,257.8 2720.4,256.3 2732.4,250.3 2747.5,242.8 2762.5,238.3 2759.5,250.3 2750.5,262.3 2756.5,271.4 2744.5,277.4 2735.4,274.4 2729.4,265.4 2720.4,274.4 2708.3,277.4 2696.3,274.4 2687.2,271.4 2678.2,272.9 2666.1,265.4 2664.6,254.8 2669.2,242.8ZM2807.7,182.5 2822.8,190.1 2822.8,271.4 2807.7,268.4 2798.7,259.3 2792.7,247.3 2794.2,226.2 2797.2,205.1 2801.7,190.1ZM406.5,1455.6 411,1454.1 417,1461.6 418.6,1472.2 426.1,1475.2 424.6,1493.3 418.6,1485.7 411,1473.7 406.5,1464.6ZM139.9,1095.7 146,1094.2 152,1098.7 149.9,1103.2 143,1102.6ZM290.5,1522.1 297.5,1516.1 298.1,1508.6 302.6,1507 304.1,1519.1 299.6,1528.1ZM455.3,1510.1 463.7,1495 475.2,1495 474.3,1507 467.3,1520.6 459.2,1514.6ZM2334.2,1651.6 2346.9,1657.7 2352.9,1651.6 2354.4,1641.1 2364.9,1644.1 2377,1639.6 2393.6,1635.1 2395.1,1641.1 2380,1647.1 2368,1651.6 2358.9,1657.7 2351.4,1661.3 2343.9,1659.2ZM2389.6,1624.5 2395.1,1621.5 2413.1,1620 2422.2,1626 2431.2,1632 2443.3,1636.6 2449.3,1650.1 2444.8,1659.2 2446.3,1675.7 2443.3,1680.2 2432.7,1674.2 2438.7,1666.7 2437.2,1654.6 2435.7,1641.1 2428.2,1636.6 2419.2,1629 2410.1,1625.1 2396.6,1626ZM2398.1,1736 2404.1,1734.5 2413.1,1737.5 2416.1,1745 2425.2,1754 2432.7,1761.6 2436.6,1775.1 2431.2,1782.7 2420.7,1791.7 2414.6,1784.2 2410.1,1779.6 2401.1,1781.1 2393.6,1776.6 2399.6,1772.1 2402.6,1761.6 2401.1,1757 2404.7,1748 2401.1,1740.5ZM2423.7,1793.2 2441.7,1786.6 2449.3,1793.2 2455.3,1803.7 2458.3,1811.3 2456.8,1819.7 2444.8,1821.8 2440.2,1809.8 2432.7,1802.2ZM2437.2,1736 2446.3,1731.4 2455.9,1733 2450.8,1739 2441.7,1740.5ZM2727.9,1928.7 2735.4,1921.2 2749,1919.7 2759.5,1912.2 2761,1904.6 2765.5,1905.2 2764,1919.7 2759.5,1928.7 2744.5,1934.8 2729.4,1939.3ZM2434.2,1912.2 2449.3,1919.7 2464.3,1927.2 2477.9,1928.7 2476.4,1937.2 2461.3,1931.7 2446.3,1922.7Z"/>
<path class="isl" style="fill:#000" d="M298.1,211.1 302.6,209.6 305.6,218.7 301.1,220.2ZM2554.7,453.6 2562.2,450.6 2563.7,458.1 2557.7,462.7ZM2545.1,468.7 2549.3,467.2 2550.2,472.6 2545.7,473.2ZM2610.4,408.4 2615.5,407.5 2616.4,417.5 2611.9,420.5ZM2741.4,184 2747.5,182.5 2746,190.1 2753.5,191.6 2750.5,196.1 2743,194.6ZM2510.1,664.7 2517,658.7 2524.6,657.2 2521.6,663.2 2514,666.8ZM2536.6,661.7 2545.1,658.7 2546.3,651.7 2551.1,659.6 2542.7,662.6ZM129.4,1089.6 135.4,1087.5 136.9,1091.1 132.4,1092.7ZM156.5,1095.7 164,1098.7 174.6,1100.8 175.2,1105 165.5,1104.7 158.9,1101.7ZM158.6,1147.8 164,1146.9 166.1,1152 161.9,1154.4ZM211.3,1151.4 217.3,1152 222.8,1157.4 224.6,1165.2 217.3,1163.4 214.3,1157.4ZM203.2,1177.9 207.7,1177 210.1,1186 213.1,1193 207.1,1193.6 204.7,1186ZM143.9,1411.9 149,1410.4 152,1419.5 150.5,1428.5 146,1430.9 144.5,1421ZM488.4,1714.9 492.3,1705.8 496.9,1701.3 499.9,1702.8 496.3,1709.5 490.8,1715.5ZM508.9,1768.5 513.4,1767.6 518,1775.1 517.3,1781.7 511.9,1779.6ZM546.6,1823.9 549.6,1823.3 552.6,1832.3 551.1,1836.9 547.5,1833.9ZM1586.6,1559.8 1594.2,1557.7 1601.7,1562.8 1597.2,1567.3 1589.6,1563.7ZM2476.4,1702.8 2478.8,1693.8 2486.9,1699.8 2502,1702.8 2520.1,1711.9 2521.6,1723.9 2523.1,1736 2524,1743.5 2512.5,1734.5 2520.1,1736 2517,1717.9 2502,1705.8 2485.4,1702.8 2477,1703.4ZM2547.2,1736 2551.7,1733 2560.7,1743.5 2571.3,1754 2581.8,1760.1 2569.8,1766.1 2572.8,1759.5 2563.7,1754 2554.7,1745 2548.7,1739ZM2626.4,1751 2631.5,1750.4 2632.4,1757 2630,1763.1 2627,1761.6ZM2547.2,1806.7 2548.7,1802.2 2557.7,1805.2 2572.2,1810.7 2563.7,1812.8 2554.7,1809.8ZM2587.8,1791.7 2596.9,1800.7 2605.9,1811.3 2608.9,1820.3 2624,1824.8 2629.4,1835.4 2619.5,1826.3 2602.9,1823.3 2604.4,1818.8 2596.9,1808.3 2589.3,1797.7ZM2660.1,1829.3 2669.2,1830.8 2682.7,1832.3 2687.2,1828.7 2693.3,1841.4 2688.7,1851.9 2682.7,1861 2673.7,1870 2672.2,1867 2681.2,1854.9 2687.2,1844.4 2685.7,1836.9 2676.7,1836.9 2664.6,1836.9ZM2735.4,1833.9 2747.5,1832.3 2758,1833.9 2761,1838.4 2747.5,1836.9 2735.4,1839.9ZM2792.7,1858 2804.7,1858 2801.7,1863.1 2794.2,1864.9ZM2810.1,1845.9 2818.3,1844.4 2819.8,1851.9 2812.2,1849.8ZM2756.5,1891.1 2761,1886.6 2766.1,1889.6 2759.5,1896.2ZM2406.5,1910.7 2426.7,1906.1 2431.2,1910.7 2419.2,1913.7 2408.6,1914.3Z"/>
<path class="st" d="M1537.6,504.8 1546,497.3 1554.3,489.8 1561.9,482.2 1569.4,473.9 1576.9,465.5 1584.5,457.1 1592.8,450.4 1602,445.1 1612.1,440.4 1622.1,435.7 1631.3,429.5 1638.8,425.3 1645.5,417 1648.9,406.9 1650.6,396.1 1660.6,390.2 1666.5,391 1673.2,388.5 1677.3,380.2 1679,371 1685.7,361.8 1696.6,360.9 1707.5,365.1 1717.5,366.8 1727.5,370.1 1738.4,368.4 1748.5,365.9 1759.3,367.1 1765.2,375.1 1770.2,385.2 1774.4,394.4 1781.1,403.6 1788.6,411.1 1800.3,413.1 1811.2,411.1 1821.2,408.9 1830.4,411.6 1827.1,422 1826.3,431.2 1836.3,437.1 1845.5,445.1 1842.2,455.5 1840.5,465.5 1849.7,468.8 1858.9,471.4 1856.4,479.7 1851.4,488.9 1848,495.6 1836.3,497.3 1833,488.9 1831.3,479.7 1822.1,483.1 1811.2,488.1 1801.2,488.9 1791.1,491.4 1781.1,495.6 1771.9,502.3 1764.4,506.8 1753.5,506.5 1744.3,506.8 1735.1,504 1727.5,496.5 1720,488.1 1710,485.6 1699.1,484.7 1693.2,476.4 1699.1,467.2 1705.8,459.6 1715.8,453.8 1714.1,451.3 1703.3,451.6 1693.2,455.5 1684.9,463.8 1679,469.7 1670.6,476.9 1663.1,483.9 1654.7,491.1 1644.7,495.3 1633.8,498.1 1625.5,504.8 1616.3,510.7 1610.4,515.7 1602,512.4 1594.5,509.8 1596.2,500.6 1606.2,487.3 1600.4,490.6 1590.3,492.3 1581.1,496.5 1571.9,499.8 1561.9,505.7 1551.8,509 1541,510.7 1537.6,504.8M1848.6,537.1 1840.6,528.1 1830.5,524.5 1820.5,523.1 1811.4,530.1 1801.4,533.7 1792.4,535.7 1784.3,541.2 1778.3,548.2 1772.3,554.2 1766.3,560.2 1762.2,572.3 1760.2,580.3 1754.2,590.4 1750.2,604.4 1747.2,618.5 1743.2,630.5 1742.2,640.6 1743.2,650.6 1738.2,660.6 1737.1,671.7 1737.1,682.7 1735.7,692.8 1733.1,703.8 1734.1,714.9 1737.1,723.9 1740.2,733.9 1741.2,745 1742.2,753 1742.2,763.1 1745.2,773.1 1751.2,783.1 1756.2,793.2 1760.2,800 1766.3,805.2 1778.3,800 1785.3,796.2 1792.4,791.2 1798.4,781.1 1802.4,771.5 1806.4,761 1809.4,751 1810.8,739 1810.8,727.9 1809.4,717.3 1805.4,706.8 1800.4,697.8 1794.4,687.8 1790.4,677.7 1793.4,666.7 1792.4,656.6 1791.4,647.6 1796,637.6 1797.4,626.5 1796.4,615.5 1802.4,608.4 1808.4,600.4 1820.5,594.4 1830.5,586.3 1833.5,568.3 1843.6,564.3 1841.6,559.2 1839.6,550.2 1843.6,541.2 1848.6,537.1M1848.6,537.1 1860.6,536.1 1870.7,534.5 1880.7,532.1 1882.3,520.1 1881.1,512 1884.7,506 1892.8,502 1912.9,504 1934.9,502 1957,501.6 1981.1,503 2009.2,503 2019.3,507 2025.3,515.1 2034.3,523.1 2044.4,532.1 2053.4,537.1 2058.4,544.2 2061.4,551.2 2069.5,555.2 2075.5,559.2 2074.5,564.3 2063.5,564.3 2064.5,574.3 2061.4,583.3 2051.4,582.7 2039.4,579.3 2031.3,576.3 2025.3,582.3 2023.3,576.3 2014.3,574.3 2019.3,564.3 2012.2,566.3 2005.2,558.2 2001.2,550.2 1993.2,549.2 1985.1,553.2 1995.2,559.2 2003.2,565.3 2010.2,574.3 2010.2,585.3 2006.2,596.4 2000.2,604.4 1998.2,615.5 1997.2,626.5 1999.2,637.6 2001.2,648.6 2003.2,658.6 2000.2,668.7 1992.2,677.7 1985.1,684.7 1977.1,683.7 1969.1,676.7 1965.1,660.6 1961,649.6 1957,639.6 1949,632.5 1939,632.9 1930.9,640.6 1926.9,648.6 1920.9,655.6 1914.9,662.7 1904.8,659.6 1902.8,647.6 1909.8,640.6 1915.9,632.5 1918.9,621.5 1923.9,614.5 1922.9,603.4 1921.9,592.4 1917.9,582.3 1914.9,573.3 1917.9,569.3 1912.9,560.2 1902.8,556.2 1892.8,553.2 1881.7,551.2 1873.7,545.2 1862.7,542.2 1852.6,538.2 1848.6,537.1M1967.1,720.9 1971.1,717.9 1981.1,719.9 1983.1,726.9 1979.1,732.9 1969.1,733.9 1965.1,726.9 1967.1,720.9M1954,754 1961,754 1972.1,752 1981.1,754 1984.1,746 1991.2,740 2000.2,732.9 2009.2,727.9 2012.2,720.9 2017.3,715.9 2023.3,706.8 2033.3,702.8 2045.4,700.8 2055.4,700.8 2067.5,700.8 2071.5,693.8 2078.5,686.7 2089.6,681.7 2099.6,677.7 2109.6,674.7 2120.7,672.7 2129.7,670.7 2135.7,671.7 2129.7,681.7 2124.7,690.8 2117.7,698.8 2109.6,706.8 2101.6,715.9 2090.6,722.9 2081.5,726.9 2071.5,738 2060.4,744 2051.4,750 2042.4,757 2034.3,765.1 2027.3,772.1 2017.3,777.1 2005.2,780.1 1997.2,784.1 1987.1,787.1 1976.1,785.1 1967.1,789.2 1965.1,781.1 1978.1,777.1 1978.1,768.1 1967.1,769.1 1959,763.1 1951,763.1 1954,754M269.5,1228.2 295.1,1232.7 331.2,1239.3 361.3,1244.2 393,1249.3 385.4,1260.4 451.7,1300.5 511.9,1338.1 567.7,1376.7 620.4,1385.7 671.6,1394.8 716.7,1401.4 719.8,1377.3 722.8,1374.9 749.9,1378.8M730,1376.7 803.8,1387.8 808.3,1384.8 817.3,1392.3 823.4,1408.9 835.4,1419.5 847.5,1433 859.5,1448.1 871.6,1458.6 880.6,1465.2 886.6,1473.7 891.1,1485.7 894.2,1505M892.7,1495 895.1,1507 894.2,1517.6 898.7,1528.1 907.7,1538.7 916.7,1547.7 927.3,1558.3 940.8,1565.8 951.4,1573.9 960.4,1579.9 968,1582.3 975.5,1580.8 980,1573.3 989,1567.3 992,1555.2 996.6,1544.7 1004.1,1538.7 1014.6,1535.7 1025.2,1532.7 1034.2,1537.2 1046.3,1540.2 1061.3,1540.8 1070.4,1542.6 1076.4,1550.7 1083.9,1556.7 1091.4,1564.3 1097.5,1574.8 1105,1581.7 1111,1589.9 1112.5,1600.4 1117,1611 1123.1,1620 1126.1,1630.5 1129.1,1641.1 1136.6,1648.6 1142.7,1657.7 1148.7,1668.2 1156.2,1677.2 1165.2,1684.8 1169.8,1692.3 1168.3,1705.8 1171.3,1719.4 1178.8,1731.4 1181.8,1740.5 1184.8,1752.5 1189.3,1761.6 1199.9,1764.6 1208.9,1769.7 1218,1775.1 1227,1778.1 1239,1784.8 1251.1,1787.2 1263.1,1788.7 1272.2,1791.7 1282.7,1799.2 1290.2,1796.2 1297.8,1791.7"/>
<path class="st" d="M236.3,191.6 246.9,200.6 261.9,214.2 271,220.2 283,223.2 293.6,221.7 298.1,205.1 301.1,190.1 304.1,181M252.9,346.1 257.4,352.7 258.3,367.8 256.5,381.3 268,387.3 278.5,393.4 292,391.3 304.1,394.3 313.1,399.4 320.7,405.4 334.2,406.9 355.3,410.5 370.4,408.4 391.4,409 405,412 414,409.9 430.6,415.1 466.7,425 498.4,434M541.1,260.2 524,325.6 499.3,413 500.5,434 504.4,446.1 510.4,455.1 508.9,464.2 499.9,476.2 487.8,491.3 475.8,507.8 462.2,521.4 460.7,533.4 469.8,541 463.7,554.5 456.2,569.6 451.7,587.7 447.2,605.7 441.1,625M581.2,271.4 576.7,283.4 570.7,304.5 564.6,327.1 569.2,337.7 572.2,349.7 572.2,361.7 575.2,370.8 584.2,381.3 590.2,397.9 596.3,413 605.3,422 614.3,425 608.3,437 602.3,449.1 600.2,465.7 591.7,474.7 589.6,482.2 595.7,491.9 605.3,489.8 613.7,483.7 620.4,491.3 621,506.3 624.9,521.4 626.4,534.9 630.9,544 638.4,550 639.9,563.6 643,571.1 650.5,567.5 661,571.1 670.1,568.1 680.6,570.2 692.7,574.1 703.2,575.6 707.7,566.6 715.2,568.1 719.8,578.6M749.9,556.9 734.8,553 727.3,555.1 721.3,577.1 718.3,596.7 715.2,625M118.9,568.1 150.5,579.5 210.7,599.7M635.4,182.5 644.5,187 649,202.1 647.5,226.2 644.5,238.3 638.4,247.3 644.5,256.3 646,265.4 653.5,277.4 658,288M1407.7,374.4 1408.3,349.7 1419.8,354.2 1422.8,370.8 1428.8,387.3 1449.9,392.5M843,181 817.3,321.7M1163.1,179.5 1160.1,361.7M1408.3,181 1408.3,349.7M1053.8,358.7 1049.3,385.8 1044.8,446.1 1040.2,491.3 1034.8,539.5 1026.7,598.2 1024.6,625M730,553 790.2,563.6 850.5,574.1 910.7,583.1 971,591.6 1026.7,598.2M1034.8,539.5 1091.4,546.1 1151.7,551.5 1211.9,555.4 1272.2,558.1 1344.5,559.9M1326.4,375.3 1329.4,391.9 1328.8,416 1329.4,431 1333.9,446.1 1339,459.6 1339.9,476.2 1340.8,494.3 1341.4,515.4 1344.5,527.4 1349,536.4 1351.1,548.5 1350.5,560.5 1347.5,568.1 1336.9,577.1 1341.4,587.7 1353.5,596.7 1354.1,625M1430,389.5 1448.1,392.5 1460.1,397.9 1467.7,401.5 1478.2,397.9 1490.2,394.9 1502.3,397.9 1514.3,403.9 1520.4,414.5 1532.4,411.4 1544.5,419 1559.5,426.5 1571.6,422 1580.6,416 1589.6,422 1610.7,421.4 1622.8,426.5 1640.8,423.5 1652.9,420.5M2009.8,202.1 2017.3,235.2 2024.9,274.4 2032.4,310.5 2041.4,355.7 2049,399.4 2059.5,425 2074.6,440.1 2092.7,458.1 2116.7,461.1 2149.9,462.7M1536.9,506.3 1530.9,515.4 1530.3,533.4 1530.3,551.5 1517.3,559 1506.8,572.6 1511.3,584.6 1515.8,596.7 1514.3,611.7 1512.8,625M1610.7,515.4 1622.8,527.4 1640.8,531.9 1658.9,534.9 1677,542.5 1692,542.5 1704.1,545.5 1713.1,554.5 1722.2,563.6 1726.7,578.6 1731.2,590.7M1638.8,425.3 1652.2,420.3 1667.3,410.3 1677.3,405.3 1687.4,404.4 1697.4,408.6 1717.5,417.8 1737.6,427.5 1757.7,436.6 1777.7,445.8 1797.8,454.6 1817.9,463.8 1827.9,468.8 1838,473.9 1842.2,483.9 1848,493.1M1658.1,417.8 1669,412 1679.8,412.8 1674,422 1663.9,427 1657.3,434.5 1652.2,427 1658.1,417.8M1786.1,427 1794.5,421.2 1800.3,426.2 1786.1,427M1766.3,549.2 1756.2,543.2 1750.2,552.2 1746.2,562.2 1740.2,576.3 1734.1,588.4 1730.1,600.4 1724.1,612.4 1720.1,622.5 1724.1,628.5 1730.1,620.5 1736.1,609.4 1743.2,598.4 1749.2,588.4 1756.2,578.3 1762.2,572.3M1802.4,583.3 1812.4,592.4 1820.5,582.3 1828.5,588.4 1826.5,599.4 1821.5,603.4M1815.5,543.2 1820.5,546.2 1818.5,554.2 1815.5,543.2M1944,515.1 1953,513.1 1961,514.1 1968.1,509 1975.1,516.1 1981.1,520.1 1983.1,524.1 1977.1,526.1 1980.1,536.1 1971.1,532.1 1959,530.1 1949,528.1 1939,526.1 1936.9,520.1 1944,515.1M1876.7,512 1892.8,522.1 1904.8,532.1 1914.9,536.1 1924.9,541.2 1934.9,545.2 1946,550.2 1951,559.2 1955,569.3 1958,580.3 1962,590.4 1965.1,600.4 1969.1,610.4 1972.1,621.5 1976.1,631.5 1979.1,642.6 1983.1,652.6 1982.1,663.7 1979.1,674.7 1977.1,683.7M1967.1,733.9 1959,733.9 1953,743 1954,753M1954,754 1959,763.1 1969.1,768.1 1979.1,767.1 1989.2,771.1 1998.2,764.1 2006.2,757 2014.3,750 2022.3,742 2031.3,733.9 2040.4,728.9 2050.4,723.9 2060.4,719.9 2070.5,715.9 2081.5,710.8 2089.6,704.8 2098.6,698.8 2107.6,691.8 2116.7,684.7 2125.7,676.7 2131.7,673.7M2120.7,644.6 2126.7,627.5 2135.7,621.5 2145.8,620.1 2157.8,617.5 2167.9,614.9 2179.9,612.4M2119.7,644.6 2114.7,649.6 2105.6,654.6 2095.6,654.6 2090.6,648.6 2094.6,637.6 2099.6,628.5 2108.6,621.5 2115.7,613.5 2125.7,609.4 2135.7,605.4M2103.6,725.9 2111.6,728.9 2129.7,725.3M1700,543.2 1710,549.2 1718.1,555.2 1724.1,562.2 1725.1,574.3 1731.1,584.3 1735.1,594.4 1730.1,603.4 1724.1,612.4M2130,461.1 2145.1,462.7 2157.1,468.7 2169.2,476.2 2178.2,476.2 2182.7,471.7 2188.7,479.2 2196.3,488.3 2205.3,489.8 2217.3,486.7 2229.4,488.3 2241.4,482.2 2253.5,473.2 2265.5,465.7 2277.6,462.7 2286.6,464.2 2286.6,479.2 2292.7,485.2M2488.4,280.4 2493,271.4 2486.9,251.8 2494.5,245.8 2512.5,238.3 2521.6,242.8 2533.6,236.7 2545.7,224.7M2690.2,307.5 2693.3,300M2130,605.7 2148.1,598.2 2166.1,590.7 2175.2,581.6 2190.2,575.6 2205.3,569.6 2220.4,562 2229.4,554.5 2239.9,550M2239.9,550 2232.4,563.6 2235.4,569.6 2232.4,581.6 2239.9,590.7 2238.4,602.7 2229.4,608.7 2223.4,617.8 2217.3,625 2205.3,628.3 2190.2,626.8 2163.9,631.5 2143.8,636.5 2131.7,640.6M2130,620.2 2160.1,613.3 2190.2,608.7 2214.3,604.2 2220.4,584.6 2226.4,566.6 2239.9,550M2175.2,581.6 2184.2,578.6 2194.8,580.1 2202.3,589.2 2193.3,595.2 2181.2,592.2 2175.2,581.6M2339.3,488.3 2343.9,503.3 2349.9,515.4 2352.9,524.4 2351.4,536.4 2354.4,548.5 2358.9,560.5 2360.4,568.1 2368,566.6 2371,578.6 2374,590.7 2377,602.7 2380,614.8 2380.6,620.8M2413.1,464.8 2416.1,476.2 2420.7,488.3 2416.1,500.3 2407.1,509.3 2408.6,524.4 2407.1,536.4 2404.7,551.5 2405.6,566.6 2407.7,581.6 2409.5,596.7 2411.6,605.7M2426.7,441.6 2431.2,455.1 2437.2,471.7 2443.3,485.2 2449.3,500.3 2455.3,515.4 2461.3,530.4 2467.3,545.5 2476.4,556 2480.9,563.6M2380.6,617.8 2413.1,607.2 2440.2,600.3 2464.3,593.7 2473.4,581.6 2480.9,577.1M210.7,599.9 243.9,610.8 298.1,630.1 361.3,649.6 427.6,669.2 499.9,688.8 560.1,703.9 632.4,718.9 692.7,730.1M427.6,669.2 436.6,643.6 447.2,615M298.1,630.1 271,717.4 243.9,805.4 280,859 316.1,916.2 346.3,967.4 376.4,1015.6 403.5,1065M560.1,703.9 542,783.7 524,862 507.4,934.3 490.8,1000.5 484.8,1030.7 478.8,1045.7 472.8,1056.3 465.2,1048.7 454.7,1044.2 444.2,1047.2 442,1065M490.8,1000.5 572.2,1018.6 647.5,1035.2 731.8,1048.7 749.9,1051.7M716.7,615 704.7,675.2 692.7,730.1 682.1,791.2 749.9,804.8M749.9,928.3 739.3,1006.6 731.8,1048.7 728.8,1065M1025.2,615 1020.7,669.2 1015.5,718.9 1008.6,779.2 1001.1,839.4M1015.5,718.9 1091.4,725.8 1181.8,732.5 1263.1,736.4 1272.2,743 1282.7,748.1 1293.3,745.1 1308.3,745.1 1320.4,750.5 1332.4,756.6 1344.5,762.6 1346,764.1M730,799.3 772.2,807.8 850.5,820.7 925.8,831.3 1001.1,839.4 1046.3,844.5 1093.9,848.4 1089.9,910.2 1083.9,991.5 1077,1065M772.2,807.8 760.1,877 748.1,949.3 737.5,1012.6 730,1048.7M1089.9,910.2 1181.8,915.6 1272.2,919.8 1332.4,921.6 1401.1,921.6M1346,764.1 1355,771.6 1358,786.7 1364,797.2 1368,810.8 1368.6,825.8 1376.1,837.9 1379.1,856 1379.1,874 1383.6,884.6 1388.1,898.1 1392.7,905.7 1397.2,911.7 1401.1,921.6 1410.7,928.3 1422.8,932.8 1416.7,941.8 1415.2,952.3 1422.8,961.4 1428.8,970.4 1437.2,974.9 1437.8,1006.6 1438.4,1065M1347.5,708.4 1449.9,708.4M1354.1,615 1352.9,705.4 1347.5,708.4 1347.5,717.4 1353.5,729.5 1350.5,741.5 1344.5,756.6 1346,764.1M1386.6,884.6 1449.9,884M1512.8,615 1512.8,627 1517.3,634.6 1529.4,642.1 1544.5,651.1 1553.5,660.2 1562.5,667.7 1573.1,672.2 1579.7,678.3 1582.1,690.3 1584.2,703.9 1589.6,714.4 1588.1,729.5 1591.1,741.5 1595.7,747.5 1607.7,752 1613.7,762.6 1618.3,765.6 1625.8,774.6 1634.8,782.2 1639.3,789.7 1634.8,801.7 1630.3,813.8 1625.8,819.8 1616.7,824.3 1604.7,828.9 1598.7,834.9 1603.2,845.4 1604.7,856 1600.2,868 1592.7,877 1585.1,886.1 1583.6,892.1 1582.1,905.7 1583.6,916.2 1586.6,926.7 1592.7,934.3 1604.7,943.3 1615.2,953.9 1622.8,964.4 1625.8,974.9 1630.3,981 1640.8,978.9 1651.4,982.5 1646.9,999 1642.3,1017.1 1646.9,1024.6 1658.9,1033.7 1671,1041.2 1683,1050.2 1687.5,1059.3 1689,1065M1430,709 1505.3,706 1579.7,703.3M1430,884.6 1505.3,882.2 1568.6,880.1 1576.1,886.1 1583.6,892.1M1613.7,762.6 1671,758.1 1743.3,753M1759.8,801.7 1762.8,840.9 1765.8,880.1 1768.9,916.2 1771.9,940.3 1768.9,953.9 1776.4,973.4 1773.4,988.5 1765.8,1002 1756.8,1012.6 1756.8,1030.7 1758.3,1039.7M1743.3,1065 1753.8,1057.8 1755.3,1042.7 1758.3,1039.7 1764.3,1032.2 1776.4,1029.2 1788.4,1027.7 1799,1033.1 1811,1024 1823.1,1027 1832.1,1012.6 1839.6,1009.6 1847.2,1017.1 1856.2,1015.6 1862.2,1000.5 1871.3,991.5 1878.8,970.4 1887.8,969.8 1899.9,964.4 1905.9,958.4 1901.4,941.8 1908.9,940.9 1919.5,940.3 1927,946.3 1936,955.4 1948.1,956.9 1958.6,961.4 1967.7,958.4 1976.7,961.4 1987.2,955.4 1996.3,953 2005.3,961.4 2014.3,967.4 2024.9,964.4 2030.9,950.8 2032.4,934.3 2038.4,928.3 2044.5,932.8 2049,913.2 2059.5,901.1 2071.6,892.1 2080.6,880.1 2082.1,865 2085.1,853 2086.6,834.9 2082.1,822.8M2014.3,967.4 2015.8,984 2026.4,996 2035.4,1006.6 2047.5,1015.6 2055,1023.1 2062.5,1030.7 2073.1,1033.7 2083.6,1026.1 2095.7,1024.6 2107.7,1017.1 2119.8,1009.6 2131.8,1005.1 2133.3,993 2140.8,976.4 2146.9,961.4 2149.9,946.3M2047.5,1015.6 2044.5,1026.1 2020.4,1048.7 2008.3,1065M1881.8,780.7 1887.8,825.8 1893.9,880.1 1898.4,916.2 1901.4,941.8M1793,792.7 1881.8,781.6 1945.1,773.1M1430,971.9 1437.5,974.9 1437.5,1065M2071.6,737 2080.6,783.7 2088.1,825.8 2098.1,872.5 2146.9,863.5 2149.9,880.1M2116.7,1065 2149.9,1059.3M2130,724.9 2175.2,715.9 2220.4,705.4 2265.5,693.9 2297.2,686.4 2306.2,687.3 2313.7,693.3 2319.8,702.3 2325.8,710.8 2337.8,713.8 2358.9,720.4 2380,727M2337.8,713.8 2334.8,726.4 2327.3,741.5 2330.3,752 2327.3,762.6 2334.8,770.1 2343.9,777.7 2355.9,786.7M2381.5,615 2380.6,651.1 2383,660.2 2386,675.2 2389,690.3 2393.6,703.9 2395.1,708.4 2389,717.4M2383,660.2 2413.1,652.7 2455.3,640.6 2474.9,634.6 2479.4,645.1 2482.4,654.2M2455.3,640.6 2461.3,660.2 2467.3,676.7M2130,866.5 2199.3,853 2259.5,837.9 2313.7,824.3 2325.8,813.8M2313.7,824.3 2318.3,831.9 2322.8,849.9 2330.3,871 2337.8,898.1 2364.9,893.6M2146.6,863.5 2149.6,880.1 2151.1,890.6 2158.6,887.6 2166.1,877 2178.2,866.5 2193.3,865 2203.8,856 2209.8,849.9 2220.4,854.5 2227.9,862 2232.4,871 2229.4,881.6 2217.3,877 2205.3,871 2202.3,880.1 2200.8,889.1 2194.8,899.6 2187.2,908.7 2178.2,914.7 2173.7,928.3 2170.7,937.3 2163.1,938.8 2154.1,932.8 2151.1,946.3 2145.1,961.4 2139,976.4 2133,991.5 2133.6,1003.6 2130,1006.6M2232.4,871 2244.5,880.1 2259.5,883.1 2270.1,886.1M2130,1060.8 2205.3,1045.7 2289.6,1029.2 2351.4,1015.6M442,1055 438.1,1085.1 433.6,1109.2 433.6,1124.3 438.1,1145.4 447.2,1155.9 444.2,1164.9 433.6,1171 424.6,1177 421.6,1187.5 417,1198.1 411,1205.6 403.5,1211.6 402,1223.7 409.5,1232.7 411,1241.7 403.5,1249.3 393,1249.3M396,1055 432.1,1109.2M731.8,1055 722.8,1115.2 710.7,1181.5 698.7,1247.8 686.6,1314 671.6,1394.8M730,1050.2 755.6,1054.1 850.5,1068.6 940.8,1079.1 1026.7,1088.1 1074.9,1092.7 1151.7,1097.8 1242,1102.6 1332.4,1105 1437.8,1105.6M1077.9,1055 1074.9,1092.7M1026.7,1088.1 1023.7,1118.3 1016.1,1175.5 1008.6,1241.7 1001.1,1311 995.1,1371.3 992,1395.4M1023.7,1118.3 1091.4,1123.7 1171.3,1129.7 1168.3,1190.5 1165.8,1247.8 1174.3,1255.3 1181.8,1261.3 1193.9,1261.3 1199.9,1257.4 1205.3,1262.8 1206.5,1271.9 1218,1274.9 1230,1278.5 1239,1279.4 1243.6,1282.4 1254.1,1279.4 1261.6,1279.4 1263.1,1285.4 1269.2,1291.4 1273.7,1296 1284.2,1289.9 1293.3,1296 1305.3,1299 1308.3,1294.5 1311.3,1305 1318.9,1294.5 1329.4,1297.5 1335.4,1296 1344.5,1302 1353.5,1308 1362.5,1302 1371.6,1297.5 1380.6,1298.4 1389.6,1294.5 1398.7,1297.5 1409.2,1293 1419.8,1299 1428.8,1305 1437.8,1309.5 1449.9,1312.5M1438.4,1055 1438.4,1106.2 1439.3,1134.8 1446.9,1136.3M1439.3,1139.3 1443.9,1163.4 1448.4,1199.6 1448.4,1305M803.8,1387.8 803.8,1372.8 910.7,1386.3 992,1395.4M1437.5,1055 1439,1134.8 1443.6,1160.4 1448.1,1196.6 1449.6,1235.7 1448.7,1271.9 1448.1,1308M1430,1305 1439,1311 1448.1,1313.4 1460.1,1315.5 1470.7,1317 1472.2,1350.2 1472.2,1386.3 1472.2,1413.4 1481.2,1422.5 1487.2,1437.5 1493.3,1449.6 1500.8,1464.6 1502.3,1473.7 1497.8,1488.7 1491.7,1505M1439,1134.8 1520.4,1133.9 1595.7,1130.3 1657.4,1127.3 1664.9,1136.3 1658.9,1148.4 1651.4,1158.9 1686,1157.4M1472.2,1350.2 1550.5,1347.8 1621.3,1345.7M1686,1055 1690.5,1067 1689,1079.1 1696.6,1089.6 1707.1,1092.7 1710.1,1103.2 1707.1,1115.2 1696.6,1119.8 1690.5,1127.3 1687.5,1139.3 1686,1157.4 1683,1169.5 1675.5,1178.5 1672.5,1190.5 1668,1202.6 1668,1211.6 1661.9,1219.2 1652.9,1229.7 1646.9,1238.7 1645.4,1253.8 1637.8,1261.3 1630.3,1274.9 1625.8,1283.9 1624.3,1296 1618.3,1305 1619.8,1317 1622.8,1329.1 1622.8,1339.6 1621.3,1345.7 1624.3,1356.2 1625.8,1368.3 1628.8,1378.8 1636.3,1386.3 1631.8,1398.4 1622.8,1411.9 1615.2,1422.5 1609.2,1434.5 1607.7,1449.6 1603.2,1461.6 1601.7,1472.2 1640.8,1470.1 1701.1,1466.1 1705.6,1472.2 1702.6,1482.7 1704.1,1493.3 1713.1,1505M1690.5,1125.8 1731.2,1121.9 1761.3,1118.3 1763.7,1108.6 1821.6,1103.2 1881.8,1097.2 1948.1,1089.6 1982.7,1084.5 2062.5,1071.6 2149.9,1059.5M1710.1,1083.6 1719.2,1080.6 1731.2,1083.6 1741.7,1083.6 1738.7,1071.6 1744.8,1064 1755.3,1058M1661.9,1219.2 1710.1,1216.1 1768.9,1211.6 1821.6,1204.7 1895.4,1198.1 1960.1,1189 2020.4,1180M1768.9,1211.6 1771.3,1247.8 1770.4,1296 1768.9,1356.2 1768,1386.3 1768.9,1416.4 1773.4,1446.6 1777.9,1476.7 1779.4,1497.8M1895.4,1198.1 1905.9,1235.7 1918,1271.9 1930,1308 1939,1329.1 1948.1,1345.7 1952.6,1360.7 1948.1,1371.3 1945.7,1386.3 1951.1,1401.4 1952.6,1416.4 1954.1,1431.5 1960.1,1443.6 1967.7,1455.6M1832.1,1488.7 1830.6,1475.2 1821.6,1466.1 1821.6,1455.6 1881.8,1449.6 1955.6,1439M1967.7,1455.6 2032.4,1451.1 2110.7,1445.1 2115.2,1455.6 2122.8,1452.6 2121.3,1431.5 2131.8,1427.9 2149.9,1428.5M2077.6,1071.6 2074.6,1085.1 2062.5,1100.2 2047.5,1110.7 2038.4,1116.7 2026.4,1119.8 2017.3,1130.3 2002.3,1142.3 1993.3,1148.4 1981.2,1151.4 1972.2,1163.4 1961.6,1172.5 1960.1,1189M2020.4,1180 2056.5,1161 2092.7,1157.4 2122.8,1153.8 2128.8,1158.9 2137.8,1157.4 2140.8,1169.5 2149.9,1169.5M2020.4,1180 2014.3,1190.5 2012.8,1199.6 2023.4,1207.1 2038.4,1211.6 2047.5,1223.7 2056.5,1235.7 2071.6,1244.8 2080.6,1253.8 2092.7,1261.3 2098.7,1268.9 2107.7,1277.9 2119.8,1285.4 2128.8,1296 2133.3,1308 2142.3,1314 2149.9,1321.6M2017.3,1058 2002.3,1073.1 1981.2,1085.1M2130,1061 2175.2,1055M2130,1155.9 2137.5,1161.9 2140.5,1171 2196.3,1161.9 2229.4,1183 2262.5,1204.1M2130,1302 2136,1311 2143.6,1317 2149.6,1326.1 2152.6,1335.1 2158.6,1339.6 2166.1,1341.1M2130,1428.5 2142,1429.1 2148.1,1428.5M1497.8,1495 1491.7,1513.1 1492.7,1525.1 1490.2,1537.2 1484.2,1546.2M1707.1,1495 1711.6,1502.5 1716.1,1511.6"/>
<path class="st" stroke-dashoffset="1.5" d="M749.9,556.9 734.8,553 727.3,555.1 721.3,577.1 718.3,596.7 715.2,625M118.9,568.1 150.5,579.5 210.7,599.7M843,181 817.3,321.7M1053.8,358.7 1049.3,385.8 1044.8,446.1 1040.2,491.3 1034.8,539.5 1026.7,598.2 1024.6,625M1326.4,375.3 1329.4,391.9 1328.8,416 1329.4,431 1333.9,446.1 1339,459.6 1339.9,476.2 1340.8,494.3 1341.4,515.4 1344.5,527.4 1349,536.4 1351.1,548.5 1350.5,560.5 1347.5,568.1 1336.9,577.1 1341.4,587.7 1353.5,596.7 1354.1,625M1430,389.5 1448.1,392.5 1460.1,397.9 1467.7,401.5 1478.2,397.9 1490.2,394.9 1502.3,397.9 1514.3,403.9 1520.4,414.5 1532.4,411.4 1544.5,419 1559.5,426.5 1571.6,422 1580.6,416 1589.6,422 1610.7,421.4 1622.8,426.5 1640.8,423.5 1652.9,420.5M1610.7,515.4 1622.8,527.4 1640.8,531.9 1658.9,534.9 1677,542.5 1692,542.5 1704.1,545.5 1713.1,554.5 1722.2,563.6 1726.7,578.6 1731.2,590.7M1658.1,417.8 1669,412 1679.8,412.8 1674,422 1663.9,427 1657.3,434.5 1652.2,427 1658.1,417.8M1802.4,583.3 1812.4,592.4 1820.5,582.3 1828.5,588.4 1826.5,599.4 1821.5,603.4M1876.7,512 1892.8,522.1 1904.8,532.1 1914.9,536.1 1924.9,541.2 1934.9,545.2 1946,550.2 1951,559.2 1955,569.3 1958,580.3 1962,590.4 1965.1,600.4 1969.1,610.4 1972.1,621.5 1976.1,631.5 1979.1,642.6 1983.1,652.6 1982.1,663.7 1979.1,674.7 1977.1,683.7M2103.6,725.9 2111.6,728.9 2129.7,725.3M2690.2,307.5 2693.3,300M2239.9,550 2232.4,563.6 2235.4,569.6 2232.4,581.6 2239.9,590.7 2238.4,602.7 2229.4,608.7 2223.4,617.8 2217.3,625 2205.3,628.3 2190.2,626.8 2163.9,631.5 2143.8,636.5 2131.7,640.6M427.6,669.2 436.6,643.6 447.2,615M1015.5,718.9 1091.4,725.8 1181.8,732.5 1263.1,736.4 1272.2,743 1282.7,748.1 1293.3,745.1 1308.3,745.1 1320.4,750.5 1332.4,756.6 1344.5,762.6 1346,764.1M1354.1,615 1352.9,705.4 1347.5,708.4 1347.5,717.4 1353.5,729.5 1350.5,741.5 1344.5,756.6 1346,764.1M1430,709 1505.3,706 1579.7,703.3M1613.7,762.6 1671,758.1 1743.3,753M442,1055 438.1,1085.1 433.6,1109.2 433.6,1124.3 438.1,1145.4 447.2,1155.9 444.2,1164.9 433.6,1171 424.6,1177 421.6,1187.5 417,1198.1 411,1205.6 403.5,1211.6 402,1223.7 409.5,1232.7 411,1241.7 403.5,1249.3 393,1249.3M1437.5,1055 1439,1134.8 1443.6,1160.4 1448.1,1196.6 1449.6,1235.7 1448.7,1271.9 1448.1,1308M1430,1305 1439,1311 1448.1,1313.4 1460.1,1315.5 1470.7,1317 1472.2,1350.2 1472.2,1386.3 1472.2,1413.4 1481.2,1422.5 1487.2,1437.5 1493.3,1449.6 1500.8,1464.6 1502.3,1473.7 1497.8,1488.7 1491.7,1505M1832.1,1488.7 1830.6,1475.2 1821.6,1466.1 1821.6,1455.6 1881.8,1449.6 1955.6,1439M2077.6,1071.6 2074.6,1085.1 2062.5,1100.2 2047.5,1110.7 2038.4,1116.7 2026.4,1119.8 2017.3,1130.3 2002.3,1142.3 1993.3,1148.4 1981.2,1151.4 1972.2,1163.4 1961.6,1172.5 1960.1,1189"/>
<path class="st" stroke-dashoffset="3.0" d="M252.9,346.1 257.4,352.7 258.3,367.8 256.5,381.3 268,387.3 278.5,393.4 292,391.3 304.1,394.3 313.1,399.4 320.7,405.4 334.2,406.9 355.3,410.5 370.4,408.4 391.4,409 405,412 414,409.9 430.6,415.1 466.7,425 498.4,434M1034.8,539.5 1091.4,546.1 1151.7,551.5 1211.9,555.4 1272.2,558.1 1344.5,559.9M1638.8,425.3 1652.2,420.3 1667.3,410.3 1677.3,405.3 1687.4,404.4 1697.4,408.6 1717.5,417.8 1737.6,427.5 1757.7,436.6 1777.7,445.8 1797.8,454.6 1817.9,463.8 1827.9,468.8 1838,473.9 1842.2,483.9 1848,493.1M1967.1,733.9 1959,733.9 1953,743 1954,753M2130,605.7 2148.1,598.2 2166.1,590.7 2175.2,581.6 2190.2,575.6 2205.3,569.6 2220.4,562 2229.4,554.5 2239.9,550M2339.3,488.3 2343.9,503.3 2349.9,515.4 2352.9,524.4 2351.4,536.4 2354.4,548.5 2358.9,560.5 2360.4,568.1 2368,566.6 2371,578.6 2374,590.7 2377,602.7 2380,614.8 2380.6,620.8M2380.6,617.8 2413.1,607.2 2440.2,600.3 2464.3,593.7 2473.4,581.6 2480.9,577.1M1025.2,615 1020.7,669.2 1015.5,718.9 1008.6,779.2 1001.1,839.4M1346,764.1 1355,771.6 1358,786.7 1364,797.2 1368,810.8 1368.6,825.8 1376.1,837.9 1379.1,856 1379.1,874 1383.6,884.6 1388.1,898.1 1392.7,905.7 1397.2,911.7 1401.1,921.6 1410.7,928.3 1422.8,932.8 1416.7,941.8 1415.2,952.3 1422.8,961.4 1428.8,970.4 1437.2,974.9 1437.8,1006.6 1438.4,1065M1743.3,1065 1753.8,1057.8 1755.3,1042.7 1758.3,1039.7 1764.3,1032.2 1776.4,1029.2 1788.4,1027.7 1799,1033.1 1811,1024 1823.1,1027 1832.1,1012.6 1839.6,1009.6 1847.2,1017.1 1856.2,1015.6 1862.2,1000.5 1871.3,991.5 1878.8,970.4 1887.8,969.8 1899.9,964.4 1905.9,958.4 1901.4,941.8 1908.9,940.9 1919.5,940.3 1927,946.3 1936,955.4 1948.1,956.9 1958.6,961.4 1967.7,958.4 1976.7,961.4 1987.2,955.4 1996.3,953 2005.3,961.4 2014.3,967.4 2024.9,964.4 2030.9,950.8 2032.4,934.3 2038.4,928.3 2044.5,932.8 2049,913.2 2059.5,901.1 2071.6,892.1 2080.6,880.1 2082.1,865 2085.1,853 2086.6,834.9 2082.1,822.8M2455.3,640.6 2461.3,660.2 2467.3,676.7M2313.7,824.3 2318.3,831.9 2322.8,849.9 2330.3,871 2337.8,898.1 2364.9,893.6M2130,1060.8 2205.3,1045.7 2289.6,1029.2 2351.4,1015.6M1686,1055 1690.5,1067 1689,1079.1 1696.6,1089.6 1707.1,1092.7 1710.1,1103.2 1707.1,1115.2 1696.6,1119.8 1690.5,1127.3 1687.5,1139.3 1686,1157.4 1683,1169.5 1675.5,1178.5 1672.5,1190.5 1668,1202.6 1668,1211.6 1661.9,1219.2 1652.9,1229.7 1646.9,1238.7 1645.4,1253.8 1637.8,1261.3 1630.3,1274.9 1625.8,1283.9 1624.3,1296 1618.3,1305 1619.8,1317 1622.8,1329.1 1622.8,1339.6 1621.3,1345.7 1624.3,1356.2 1625.8,1368.3 1628.8,1378.8 1636.3,1386.3 1631.8,1398.4 1622.8,1411.9 1615.2,1422.5 1609.2,1434.5 1607.7,1449.6 1603.2,1461.6 1601.7,1472.2 1640.8,1470.1 1701.1,1466.1 1705.6,1472.2 1702.6,1482.7 1704.1,1493.3 1713.1,1505M1661.9,1219.2 1710.1,1216.1 1768.9,1211.6 1821.6,1204.7 1895.4,1198.1 1960.1,1189 2020.4,1180"/>
<path class="st" stroke-dashoffset="4.5" d="M236.3,191.6 246.9,200.6 261.9,214.2 271,220.2 283,223.2 293.6,221.7 298.1,205.1 301.1,190.1 304.1,181M1163.1,179.5 1160.1,361.7M2413.1,464.8 2416.1,476.2 2420.7,488.3 2416.1,500.3 2407.1,509.3 2408.6,524.4 2407.1,536.4 2404.7,551.5 2405.6,566.6 2407.7,581.6 2409.5,596.7 2411.6,605.7M560.1,703.9 542,783.7 524,862 507.4,934.3 490.8,1000.5 484.8,1030.7 478.8,1045.7 472.8,1056.3 465.2,1048.7 454.7,1044.2 444.2,1047.2 442,1065M1347.5,708.4 1449.9,708.4M2071.6,737 2080.6,783.7 2088.1,825.8 2098.1,872.5 2146.9,863.5 2149.9,880.1M2381.5,615 2380.6,651.1 2383,660.2 2386,675.2 2389,690.3 2393.6,703.9 2395.1,708.4 2389,717.4M2383,660.2 2413.1,652.7 2455.3,640.6 2474.9,634.6 2479.4,645.1 2482.4,654.2M731.8,1055 722.8,1115.2 710.7,1181.5 698.7,1247.8 686.6,1314 671.6,1394.8M1026.7,1088.1 1023.7,1118.3 1016.1,1175.5 1008.6,1241.7 1001.1,1311 995.1,1371.3 992,1395.4M1439.3,1139.3 1443.9,1163.4 1448.4,1199.6 1448.4,1305M1710.1,1083.6 1719.2,1080.6 1731.2,1083.6 1741.7,1083.6 1738.7,1071.6 1744.8,1064 1755.3,1058M2130,1302 2136,1311 2143.6,1317 2149.6,1326.1 2152.6,1335.1 2158.6,1339.6 2166.1,1341.1M2130,1428.5 2142,1429.1 2148.1,1428.5M1707.1,1495 1711.6,1502.5 1716.1,1511.6"/>
<path class="st" stroke-dashoffset="5.5" d="M541.1,260.2 524,325.6 499.3,413 500.5,434 504.4,446.1 510.4,455.1 508.9,464.2 499.9,476.2 487.8,491.3 475.8,507.8 462.2,521.4 460.7,533.4 469.8,541 463.7,554.5 456.2,569.6 451.7,587.7 447.2,605.7 441.1,625M1407.7,374.4 1408.3,349.7 1419.8,354.2 1422.8,370.8 1428.8,387.3 1449.9,392.5M1408.3,181 1408.3,349.7M730,553 790.2,563.6 850.5,574.1 910.7,583.1 971,591.6 1026.7,598.2M2009.8,202.1 2017.3,235.2 2024.9,274.4 2032.4,310.5 2041.4,355.7 2049,399.4 2059.5,425 2074.6,440.1 2092.7,458.1 2116.7,461.1 2149.9,462.7M1536.9,506.3 1530.9,515.4 1530.3,533.4 1530.3,551.5 1517.3,559 1506.8,572.6 1511.3,584.6 1515.8,596.7 1514.3,611.7 1512.8,625M1786.1,427 1794.5,421.2 1800.3,426.2 1786.1,427M1766.3,549.2 1756.2,543.2 1750.2,552.2 1746.2,562.2 1740.2,576.3 1734.1,588.4 1730.1,600.4 1724.1,612.4 1720.1,622.5 1724.1,628.5 1730.1,620.5 1736.1,609.4 1743.2,598.4 1749.2,588.4 1756.2,578.3 1762.2,572.3M1944,515.1 1953,513.1 1961,514.1 1968.1,509 1975.1,516.1 1981.1,520.1 1983.1,524.1 1977.1,526.1 1980.1,536.1 1971.1,532.1 1959,530.1 1949,528.1 1939,526.1 1936.9,520.1 1944,515.1M2119.7,644.6 2114.7,649.6 2105.6,654.6 2095.6,654.6 2090.6,648.6 2094.6,637.6 2099.6,628.5 2108.6,621.5 2115.7,613.5 2125.7,609.4 2135.7,605.4M1700,543.2 1710,549.2 1718.1,555.2 1724.1,562.2 1725.1,574.3 1731.1,584.3 1735.1,594.4 1730.1,603.4 1724.1,612.4M2130,461.1 2145.1,462.7 2157.1,468.7 2169.2,476.2 2178.2,476.2 2182.7,471.7 2188.7,479.2 2196.3,488.3 2205.3,489.8 2217.3,486.7 2229.4,488.3 2241.4,482.2 2253.5,473.2 2265.5,465.7 2277.6,462.7 2286.6,464.2 2286.6,479.2 2292.7,485.2M2488.4,280.4 2493,271.4 2486.9,251.8 2494.5,245.8 2512.5,238.3 2521.6,242.8 2533.6,236.7 2545.7,224.7M2130,620.2 2160.1,613.3 2190.2,608.7 2214.3,604.2 2220.4,584.6 2226.4,566.6 2239.9,550M2426.7,441.6 2431.2,455.1 2437.2,471.7 2443.3,485.2 2449.3,500.3 2455.3,515.4 2461.3,530.4 2467.3,545.5 2476.4,556 2480.9,563.6M210.7,599.9 243.9,610.8 298.1,630.1 361.3,649.6 427.6,669.2 499.9,688.8 560.1,703.9 632.4,718.9 692.7,730.1M298.1,630.1 271,717.4 243.9,805.4 280,859 316.1,916.2 346.3,967.4 376.4,1015.6 403.5,1065M490.8,1000.5 572.2,1018.6 647.5,1035.2 731.8,1048.7 749.9,1051.7M730,799.3 772.2,807.8 850.5,820.7 925.8,831.3 1001.1,839.4 1046.3,844.5 1093.9,848.4 1089.9,910.2 1083.9,991.5 1077,1065M772.2,807.8 760.1,877 748.1,949.3 737.5,1012.6 730,1048.7M1386.6,884.6 1449.9,884M1430,884.6 1505.3,882.2 1568.6,880.1 1576.1,886.1 1583.6,892.1M1759.8,801.7 1762.8,840.9 1765.8,880.1 1768.9,916.2 1771.9,940.3 1768.9,953.9 1776.4,973.4 1773.4,988.5 1765.8,1002 1756.8,1012.6 1756.8,1030.7 1758.3,1039.7M2014.3,967.4 2015.8,984 2026.4,996 2035.4,1006.6 2047.5,1015.6 2055,1023.1 2062.5,1030.7 2073.1,1033.7 2083.6,1026.1 2095.7,1024.6 2107.7,1017.1 2119.8,1009.6 2131.8,1005.1 2133.3,993 2140.8,976.4 2146.9,961.4 2149.9,946.3M1881.8,780.7 1887.8,825.8 1893.9,880.1 1898.4,916.2 1901.4,941.8M1793,792.7 1881.8,781.6 1945.1,773.1M2116.7,1065 2149.9,1059.3M2130,724.9 2175.2,715.9 2220.4,705.4 2265.5,693.9 2297.2,686.4 2306.2,687.3 2313.7,693.3 2319.8,702.3 2325.8,710.8 2337.8,713.8 2358.9,720.4 2380,727M2337.8,713.8 2334.8,726.4 2327.3,741.5 2330.3,752 2327.3,762.6 2334.8,770.1 2343.9,777.7 2355.9,786.7M396,1055 432.1,1109.2M730,1050.2 755.6,1054.1 850.5,1068.6 940.8,1079.1 1026.7,1088.1 1074.9,1092.7 1151.7,1097.8 1242,1102.6 1332.4,1105 1437.8,1105.6M1077.9,1055 1074.9,1092.7M1438.4,1055 1438.4,1106.2 1439.3,1134.8 1446.9,1136.3M803.8,1387.8 803.8,1372.8 910.7,1386.3 992,1395.4M1439,1134.8 1520.4,1133.9 1595.7,1130.3 1657.4,1127.3 1664.9,1136.3 1658.9,1148.4 1651.4,1158.9 1686,1157.4M1472.2,1350.2 1550.5,1347.8 1621.3,1345.7M1768.9,1211.6 1771.3,1247.8 1770.4,1296 1768.9,1356.2 1768,1386.3 1768.9,1416.4 1773.4,1446.6 1777.9,1476.7 1779.4,1497.8M1895.4,1198.1 1905.9,1235.7 1918,1271.9 1930,1308 1939,1329.1 1948.1,1345.7 1952.6,1360.7 1948.1,1371.3 1945.7,1386.3 1951.1,1401.4 1952.6,1416.4 1954.1,1431.5 1960.1,1443.6 1967.7,1455.6M2020.4,1180 2014.3,1190.5 2012.8,1199.6 2023.4,1207.1 2038.4,1211.6 2047.5,1223.7 2056.5,1235.7 2071.6,1244.8 2080.6,1253.8 2092.7,1261.3 2098.7,1268.9 2107.7,1277.9 2119.8,1285.4 2128.8,1296 2133.3,1308 2142.3,1314 2149.9,1321.6M2017.3,1058 2002.3,1073.1 1981.2,1085.1"/>
<path class="st" stroke-dashoffset="6.5" d="M581.2,271.4 576.7,283.4 570.7,304.5 564.6,327.1 569.2,337.7 572.2,349.7 572.2,361.7 575.2,370.8 584.2,381.3 590.2,397.9 596.3,413 605.3,422 614.3,425 608.3,437 602.3,449.1 600.2,465.7 591.7,474.7 589.6,482.2 595.7,491.9 605.3,489.8 613.7,483.7 620.4,491.3 621,506.3 624.9,521.4 626.4,534.9 630.9,544 638.4,550 639.9,563.6 643,571.1 650.5,567.5 661,571.1 670.1,568.1 680.6,570.2 692.7,574.1 703.2,575.6 707.7,566.6 715.2,568.1 719.8,578.6M1954,754 1959,763.1 1969.1,768.1 1979.1,767.1 1989.2,771.1 1998.2,764.1 2006.2,757 2014.3,750 2022.3,742 2031.3,733.9 2040.4,728.9 2050.4,723.9 2060.4,719.9 2070.5,715.9 2081.5,710.8 2089.6,704.8 2098.6,698.8 2107.6,691.8 2116.7,684.7 2125.7,676.7 2131.7,673.7M2120.7,644.6 2126.7,627.5 2135.7,621.5 2145.8,620.1 2157.8,617.5 2167.9,614.9 2179.9,612.4M749.9,928.3 739.3,1006.6 731.8,1048.7 728.8,1065M1089.9,910.2 1181.8,915.6 1272.2,919.8 1332.4,921.6 1401.1,921.6M1512.8,615 1512.8,627 1517.3,634.6 1529.4,642.1 1544.5,651.1 1553.5,660.2 1562.5,667.7 1573.1,672.2 1579.7,678.3 1582.1,690.3 1584.2,703.9 1589.6,714.4 1588.1,729.5 1591.1,741.5 1595.7,747.5 1607.7,752 1613.7,762.6 1618.3,765.6 1625.8,774.6 1634.8,782.2 1639.3,789.7 1634.8,801.7 1630.3,813.8 1625.8,819.8 1616.7,824.3 1604.7,828.9 1598.7,834.9 1603.2,845.4 1604.7,856 1600.2,868 1592.7,877 1585.1,886.1 1583.6,892.1 1582.1,905.7 1583.6,916.2 1586.6,926.7 1592.7,934.3 1604.7,943.3 1615.2,953.9 1622.8,964.4 1625.8,974.9 1630.3,981 1640.8,978.9 1651.4,982.5 1646.9,999 1642.3,1017.1 1646.9,1024.6 1658.9,1033.7 1671,1041.2 1683,1050.2 1687.5,1059.3 1689,1065M2047.5,1015.6 2044.5,1026.1 2020.4,1048.7 2008.3,1065M2146.6,863.5 2149.6,880.1 2151.1,890.6 2158.6,887.6 2166.1,877 2178.2,866.5 2193.3,865 2203.8,856 2209.8,849.9 2220.4,854.5 2227.9,862 2232.4,871 2229.4,881.6 2217.3,877 2205.3,871 2202.3,880.1 2200.8,889.1 2194.8,899.6 2187.2,908.7 2178.2,914.7 2173.7,928.3 2170.7,937.3 2163.1,938.8 2154.1,932.8 2151.1,946.3 2145.1,961.4 2139,976.4 2133,991.5 2133.6,1003.6 2130,1006.6M1023.7,1118.3 1091.4,1123.7 1171.3,1129.7 1168.3,1190.5 1165.8,1247.8 1174.3,1255.3 1181.8,1261.3 1193.9,1261.3 1199.9,1257.4 1205.3,1262.8 1206.5,1271.9 1218,1274.9 1230,1278.5 1239,1279.4 1243.6,1282.4 1254.1,1279.4 1261.6,1279.4 1263.1,1285.4 1269.2,1291.4 1273.7,1296 1284.2,1289.9 1293.3,1296 1305.3,1299 1308.3,1294.5 1311.3,1305 1318.9,1294.5 1329.4,1297.5 1335.4,1296 1344.5,1302 1353.5,1308 1362.5,1302 1371.6,1297.5 1380.6,1298.4 1389.6,1294.5 1398.7,1297.5 1409.2,1293 1419.8,1299 1428.8,1305 1437.8,1309.5 1449.9,1312.5M1967.7,1455.6 2032.4,1451.1 2110.7,1445.1 2115.2,1455.6 2122.8,1452.6 2121.3,1431.5 2131.8,1427.9 2149.9,1428.5M1497.8,1495 1491.7,1513.1 1492.7,1525.1 1490.2,1537.2 1484.2,1546.2"/>
<path class="st" stroke-dashoffset="8.0" d="M635.4,182.5 644.5,187 649,202.1 647.5,226.2 644.5,238.3 638.4,247.3 644.5,256.3 646,265.4 653.5,277.4 658,288M1815.5,543.2 1820.5,546.2 1818.5,554.2 1815.5,543.2M2175.2,581.6 2184.2,578.6 2194.8,580.1 2202.3,589.2 2193.3,595.2 2181.2,592.2 2175.2,581.6M716.7,615 704.7,675.2 692.7,730.1 682.1,791.2 749.9,804.8M1430,971.9 1437.5,974.9 1437.5,1065M2130,866.5 2199.3,853 2259.5,837.9 2313.7,824.3 2325.8,813.8M2232.4,871 2244.5,880.1 2259.5,883.1 2270.1,886.1M1690.5,1125.8 1731.2,1121.9 1761.3,1118.3 1763.7,1108.6 1821.6,1103.2 1881.8,1097.2 1948.1,1089.6 1982.7,1084.5 2062.5,1071.6 2149.9,1059.5M2020.4,1180 2056.5,1161 2092.7,1157.4 2122.8,1153.8 2128.8,1158.9 2137.8,1157.4 2140.8,1169.5 2149.9,1169.5M2130,1061 2175.2,1055M2130,1155.9 2137.5,1161.9 2140.5,1171 2196.3,1161.9 2229.4,1183 2262.5,1204.1"/>
<path class="bd" d="M2239.9,550 2246,538 2253.5,527.4 2262.5,513.9 2274.6,503.3 2280.6,501.8 2310.7,493.7 2340.8,485.2 2375.5,475.6 2413.1,464.8 2414.6,446.1 2426.7,441.6 2434.2,434 2440.2,425 2437.2,416 2444.8,406.9 2447.8,394.9 2444.8,382.8 2443.3,370.8 2446.3,358.7 2444.8,345.2 2449.3,328.6 2453.8,312 2459.8,291 2470.4,291 2471.9,298.5 2479.4,301.5 2488.4,295.5 2496,288 2503.5,284 2514,287 2523.1,291.9 2527.6,303 2533.6,319.6 2539.6,334.6 2547.2,352.7 2551.7,367.8 2563.7,372.3 2569.8,379.8 2574.3,390.4 2578.8,394.9 2587.8,394.9 2595.4,396.4M321.6,188.6 361.3,202.1 415.5,220.2 466.7,236.7 539,258.7 584.2,271.4 656.5,288.9M817.3,321.7 925.8,340.1 1053.8,356.6 1160.7,365.4 1242,370.2 1326.4,373.8 1407.7,374.4"/>
<path class="sol" d="M656.5,288.9 749.9,307.5 817.3,321.7"/>
<path class="sol" d="M1977.1,683.7 1977.1,692.8 1976.7,700.8 1975.1,712.9 1972.1,716.9M2120.7,644.6 2121.7,652.6 2124.7,660.6 2131.7,662.7 2134.7,671.7"/>
<path class="cst" d="M235.7,199.1 230.3,211.1 228.8,223.2 232.4,235.2 231.8,253.3 230.3,271.4 227.3,286.4 239.3,290.4 225.8,294 225.8,301.5 231.2,306.9 225.8,316.6 222.8,309 215.2,327.1 222.8,330.1 234.8,331.6 240.8,339.2 246.9,345.2 252.9,346.1M237.8,339.2 228.8,337.7 218.3,334.6 210.7,358.7 204.7,373.8 194.2,394.9 183.6,416 177.6,432.5 170.1,446.1 162.5,464.2 158,473.2 149,483.7 143,489.8 150.5,488.3 141.4,490.7 132.4,503.3 121.9,516.9 123.4,527.4 121.9,536.4 117.3,548.5 114.9,559 118.9,568.1 112.8,581.6 114.3,590.7 111.3,605.7 103.8,616.3 99.9,625M235.7,199.1 240.8,203.6 252.9,212.7 258.9,220.2 271,226.2 283,232.2 290.5,232.2 295.1,238.3 302.6,239.8 305.6,235.2 304.1,250.3 295.1,257.8 286,263.9 275.5,274.4 274,278.9 286,275.9 295.1,268.4 298.1,274.4 295.1,283.4 286,284.9 275.5,292.5 286,298.5 295.1,291 304.1,289.5 308.6,277.4 311.6,265.4 316.1,259.3 322.2,251.8 320.7,241.3 323.7,232.2 319.2,223.2 324.6,217.2 326.7,205.1 322.2,202.1 321.6,190.1 316.1,181 313.1,178.6M234.8,178.6 255.9,197.6 278.5,214.2 289,212.7 291.4,220.2M286,178.6 286.6,193.1 288.4,205.1M1955.6,193.1 1961.6,185.5 1969.2,179.5M1990.2,178.6 1997.8,184 2005.3,193.1 2017.3,203.6M2467.3,179.5 2453.8,193.1 2446.3,208.1 2440.2,226.2 2435.7,244.3 2428.2,255.7 2428.2,262.3 2426.7,277.4 2419.2,295.5 2413.1,310.5 2407.1,328.6 2398.1,343.7 2392,355.7 2374,370.8 2358.9,382.8 2346.9,397.9 2334.8,409.9 2327.3,425 2322.8,443.1 2319.8,458.1 2310.7,468.7 2298.7,482.2 2286.6,497.3 2280.6,501.8M2508,179.5 2491.4,193.1 2476.4,208.1 2464.3,223.2 2455.3,235.2 2446.3,253.3 2440.2,265.4 2434.2,283.4 2428.2,301.5 2422.2,319.6 2413.1,334.6 2404.1,345.2 2392,357.2M2428.2,255.7 2413.1,253.9 2395.1,253.9 2380,256.9 2371,255.7M2322.8,443.1 2310.7,447.6 2306.2,458.1 2310.7,468.7M2286.6,465.7 2298.7,466.6 2313.7,462.7 2324.3,461.1 2322.8,443.1M2392,355.7 2401.1,337.7 2407.1,331.6M2334.8,409.9 2340.8,406.9 2346.9,397.9M2595.4,396.4 2598.4,406.9 2604.4,408.4 2599.9,420.5 2587.8,428 2581.8,437 2574.3,440.1 2569.8,450.6 2560.7,456.6 2551.7,464.2 2547.2,471.7 2539.6,464.2 2533.6,452.1 2530.6,462.7 2533,479.2 2527.6,489.8 2518.6,497.3 2509.5,501.8 2506.5,509.3 2497.5,510.8 2491.4,518.4 2494.5,525.9 2489.9,539.5 2485.4,551.5 2482.4,565.1 2480.9,577.1 2488.4,586.1 2496,589.2 2489.9,596.7 2486.9,605.7 2483,611.7 2497.5,614.8 2505,620.8 2509.5,625M2595.4,396.4 2587.8,391.9 2599.9,390.4 2611.9,385.8 2624,376.8 2631.5,367.8 2627,361.7 2639,370.8 2648.1,360.2 2660.1,343.7 2669.2,331.6 2678.2,319.6 2675.2,310.5 2682.7,316.6 2688.7,309 2690.2,307.5M2693.3,300 2702.3,295.5 2714.3,297 2729.4,294 2743,295.5 2755,291 2768.6,286.4 2777.6,271.4 2786.6,274.4 2801.7,275.9 2820.4,265.4M2820.4,297 2804.7,310.5 2789.6,325.6 2771.6,343.7 2759.5,352.7 2747.5,364.8 2744.5,375.3 2735.4,376.8 2724.9,373.8 2718.9,382.8 2724.9,394.9 2717.3,409.9 2714.3,425 2706.8,440.1 2696.3,449.1 2697.8,458.1 2684.2,464.2 2675.2,453.6 2666.1,458.1 2657.1,446.1 2651.1,434 2648.1,419 2642,431 2645.1,413 2651.1,405.4 2660.1,394.9 2666.1,385.8 2672.2,373.8 2681.2,361.7 2690.2,349.7 2696.3,343.7 2705.3,346.7 2714.3,354.2 2708.3,345.2 2717.3,334.6 2726.4,327.1 2736.9,322 2720.4,327.1 2702.3,333.1 2687.2,339.2 2675.2,346.7 2676.7,334.6 2679.7,322.6 2672.2,310.5 2684.2,315.1 2690.2,307.5M2545.7,224.7 2557.7,214.2 2572.8,203.6 2584.8,205.1 2596.9,203.6 2605.9,197.6 2611.9,188.6 2616.4,181M2545.7,224.7 2557.7,217.2 2575.8,217.2 2587.8,220.2 2595.4,227.7 2602.9,220.2 2611.9,211.1 2627,209.6 2630,220.2 2631.5,232.2 2627,244.3 2621,254.8 2630,251.8 2640.5,253.3 2642,263.9 2651.1,271.4 2660.1,280.4 2666.1,289.5 2678.2,291 2690.2,288 2700.8,289.5 2693.3,300M2628.5,191.6 2632.4,193.1 2633.6,203.6 2630,206.6M105.3,615 100.8,628.6 90.2,639.1 81.2,648.1 75.8,664.7 82.7,679.8 87.2,699.3 85.7,711.4 79.7,724.9 78.2,741.5 74.6,753.6 79.7,765.6 85.7,780.7 91.7,789.7 92.7,800.2 96.3,807.8 87.2,818.3 91.7,813.8 100.8,825.8 108.3,833.4 109.8,822.8 117.3,818.3 126.4,825.8 135.4,825.8 144.5,831.9 158,837.9 144.5,830.4 132.4,828.9 117.3,829.5 111.3,837.9 114.3,849.9 120.4,862 114.3,859 109.8,846.9 106.8,836.4 102.3,853 102.3,865 99.9,874 103.8,886.1 109.8,892.1 118.9,896.6 120.4,905.7 115.8,913.2 108.3,917.7 105.3,931.3 109.8,943.3 114.3,955.4 118.9,970.4 121.9,981 126.4,987 130.9,996 135.4,1002 132.4,1014.1 139.9,1021.6 141.4,1026.1 136.9,1035.2 133.9,1048.7 130.9,1054.8 135.4,1062.3 144.5,1065M2509.5,615 2506.5,622.5 2509.5,628.6 2517,634.6 2527.6,637.6 2536.6,633.1 2542.7,628.6 2545.1,633.1 2533.6,639.1 2521.6,645.1 2514,652.7 2511,643.6 2503.5,654.2 2496,661.7 2488.4,664.7 2489.9,648.1 2480.9,649.6 2480.9,660.2 2483.9,669.2 2476.4,675.2 2464.3,681.3 2449.3,688.8 2431.2,694.8 2419.2,699.3 2410.1,705.4 2401.1,712.9 2392,721.9 2386,729.5 2380,741.5 2374,750.5 2372.5,761.1 2378.5,762.6 2386,761.1 2389.6,771.6 2391.4,786.7 2393.6,801.7 2390.5,813.8 2383,819.8 2381.5,830.4 2377,837.9 2374,849.9 2368,862 2364.9,856 2363.4,846.9 2352.9,845.4 2340.8,840.9 2331.8,834.9 2327.3,825.8M2521.6,615 2530.6,619.5 2539.6,618 2544.2,625.5 2545.1,633.1M2327.3,825.8 2328.8,816.8 2337.8,809.3 2343.9,801.7 2349.9,792.7 2357.4,786.7M2380,741.5 2381.5,726.4 2378.5,715.9 2374,712M2384.5,749 2392,735.5 2401.1,726.4 2413.1,721.9 2425.2,715.9 2440.2,709.9 2449.3,699.3 2443.3,708.4 2458.3,702.3 2469.8,696.9 2458.3,708.4 2446.3,717.4 2431.2,728 2416.1,737 2401.1,744.5 2389,750.5 2384.5,749M2327.3,825.8 2331.8,836.4 2337.8,846.9 2346.9,859 2355.9,871 2363.4,874 2361.9,883.1 2368,889.1 2371,898.1 2368,908.7 2364.9,919.2 2363.4,929.8 2358.9,940.3 2357.4,952.3 2351.4,958.4 2348.4,967.4 2346.9,979.5M2322.8,1000.5 2334.8,996 2346.9,995.1 2352.9,1003.6 2357.4,1012.6 2361.9,1021.6 2368,1030.7 2374,1039.7 2383,1050.2 2389,1057.8 2393.6,1065M2352.9,1009.6 2354.4,1021.6 2361.9,1033.7 2369.5,1039.7M2321.3,1044.2 2325.8,1059.3 2337.8,1057.8 2340.8,1048.7 2349.9,1042.7 2352.9,1035.2 2364.9,1036.7 2371,1042.7 2377,1051.7M2361.9,1065 2360.4,1056.3 2368,1048.7 2380,1057.8 2378.5,1065M130.9,1055 136.9,1064 150.5,1067 159.5,1070.1 167,1076.1 177.6,1079.1 185.1,1086.6 192.7,1094.2 192.7,1100.2 201.7,1107.7 210.7,1113.7 219.8,1116.1 225.8,1119.8 228.8,1130.3 225.8,1136.3 230.3,1140.8 234.8,1138.7 242.3,1143.9 246.9,1151.4 254.4,1160.4 260.4,1171 264.9,1178.5 268,1187.5 269.5,1193.6 269.5,1202.6 266.4,1211.6 265.5,1219.2 271,1220.1 269.5,1228.2M269.5,1228.2 269.5,1240.2 274.6,1252.3 274.6,1264.3 280,1271.9 284.5,1277.9 283,1282.4 277,1282.4 280,1284.5 277.6,1293 281.5,1302 286,1311 289,1320.1 287.5,1332.1 293.6,1341.1 296.6,1347.2 295.1,1359.2 293.6,1371.3 301.1,1378.8 299.6,1392.3 296.6,1401.4 299.6,1405.9 300.5,1416.4 307.1,1425.5 316.1,1436 322.2,1443.6 331.2,1449.6 340.2,1464.6 349.3,1481.2 358.3,1497.8 364.3,1505M371.9,1296 376.4,1312.5 370.4,1321.6 367.3,1330.6 362.8,1342.7 365.8,1354.7 366.7,1368.3 364.9,1380.3 365.8,1386.3 362.8,1395.4 361.3,1404.4 362.8,1413.4 367.3,1422.5 370.4,1428.5 379.4,1437.5 383.9,1446.6 394.5,1460.1 399,1470.7 403.5,1482.7 405,1496.3 411,1497.8 412.5,1505M371.9,1296 380.9,1305 388.4,1308 396,1317 406.5,1329.1 414,1329.7 418.6,1324.6 427.6,1332.1 432.1,1338.1 432.1,1345.7 442.7,1351.7 451.7,1356.2 460.1,1362.2 457.7,1369.8 454.7,1371.3 451.7,1386.3 453.2,1398.4 457.7,1413.4 460.1,1428.5 460.7,1440.5 463.7,1452.6 466.7,1461.6 471.3,1472.2 470.4,1482.7 477.3,1488.7 478.8,1505M457.7,1505 463.7,1491.7 474.3,1489.3M2387.5,1055 2392,1064 2395.7,1076.1 2396.6,1085.1 2392,1089.6M2387.5,1092.7 2381.5,1097.2M2378.5,1099.6 2374.6,1102M2377,1055 2378.5,1067 2371,1077.6 2363.4,1088.7 2352.9,1089.6 2345.4,1088.1 2340.8,1083.6 2337.8,1086.6 2340.8,1092.7 2328.8,1091.7 2316.7,1089.6 2325.8,1094.2 2340.8,1096.6 2346.9,1098.7 2344.5,1110.7 2340.8,1115.2 2334.8,1118.3 2327.3,1117.7 2321.3,1112.2 2328.8,1119.8 2337.8,1120.7 2346.9,1116.7 2355.9,1115.2 2358.9,1119.8 2354.4,1128.8 2345.4,1133.3 2352.9,1136.3 2357.4,1135.7 2361.9,1124.3 2368,1115.2M2325.8,1055 2327.3,1059.5 2340.8,1057.4 2349.9,1055M2361.9,1055 2363.4,1067M2354.4,1131.8 2340.8,1135.7 2324.3,1139.3 2318.3,1146.9 2313.7,1151.4 2310.7,1142.3 2313.7,1152.9 2307.7,1160.4 2301.7,1168 2297.2,1175.5 2294.2,1184.5 2295.1,1193.6 2291.1,1181.5 2292.7,1196.6 2283.6,1199 2271.6,1201.1 2264,1204.7 2258,1210.1 2252,1217.7 2247.5,1225.2 2243.9,1234.2 2240.8,1243.3 2235.4,1244.8 2239.9,1252.3 2236.9,1259.8 2230.9,1265.8 2223.4,1269.5 2220.4,1277.9 2214.3,1285.4 2206.8,1286.3 2211.3,1289.9 2207.7,1296 2202.3,1300.5 2196.3,1302 2190.2,1307.4 2182.7,1308 2175.2,1311 2184.2,1315.5 2183.6,1321.6 2178.2,1324.6 2173.7,1320.1 2166.7,1317 2170.7,1326.1 2175.2,1330.6 2169.2,1338.1 2166.1,1347.2 2158.6,1353.2 2160.1,1359.2 2154.1,1365.2 2157.7,1371.3 2155.6,1380.3 2151.1,1389.3 2154.7,1395.4 2149.6,1399.9 2146.6,1401.4 2147.5,1413.4 2148.7,1428.5 2152.6,1434.5 2157.1,1446.6 2163.1,1461.6 2169.2,1475.2 2175.2,1487.2 2182.7,1499.3 2187.2,1505M355.3,1495 364.3,1507 368,1519.1 362.8,1531.1 356.8,1540.2 349.3,1546.8 343.3,1550.7 335.7,1552.2 328.2,1550.7 319.2,1546.8 310.1,1543.2 304.1,1541.7 303.5,1549.2 310.1,1555.2 319.2,1567.3 326.7,1574.8 326.7,1585.4 331.2,1591.4 343.3,1597.4 349.3,1608 358.3,1612.5 362.8,1623 367.3,1630.5 377.9,1627.5 386.9,1630.5 395.1,1622.1 393.9,1636.6 397.5,1645.6 406.5,1657.7 415.5,1668.2 429.1,1677.2 433.6,1690.8 437.2,1702.8 436.6,1719.4 437.2,1726.9 433.6,1739 429.1,1751 426.1,1761.6 430.6,1770.6 439.6,1782.7 438.1,1788.7 447.2,1790.2 451.7,1797.7 457.7,1805.2 466.7,1814.3 478.8,1826.3 484.8,1835.4 490.8,1842.9 496.9,1853.4 505.9,1861 511.9,1865.5 516.4,1876 519.5,1883.6 520.4,1898.6 522.5,1909.2 525.5,1915.2 531.5,1916.1 539,1913.7 548.1,1907.7 557.1,1903.1 563.1,1892.6 566.1,1885.1 563.1,1876 558.6,1871.5 552.6,1870 552.6,1861 548.1,1850.4 542,1838.4 536,1829.3 525.5,1818.8 521,1821.8 522.5,1830.8 518,1833.9 513.4,1827.8 507.4,1824.8 502.9,1814.3 501.4,1799.2 504.4,1790.2 508.9,1784.2 508.3,1773.6 504.4,1766.1 499.9,1760.1 496.9,1748 495.4,1736 490.8,1733 486.3,1723.9 484.2,1711.9 485.4,1699.8 486.3,1690.8 484.8,1681.7 483.3,1669.7 480.3,1657.7 471.3,1642.6 465.2,1645.6 468.3,1659.2 472.2,1662.2 463.7,1651.6 459.2,1635.1 462.2,1627.5 451.7,1617 449.3,1606.4 448.7,1595.9 438.1,1585.4 432.1,1576.3 430,1568.8 432.1,1558.3 430.6,1550.7 432.1,1543.2 430,1534.2 421.6,1528.1 418.6,1516.1 418,1507 411,1504 411,1496.5 405,1495M427.6,1739 420.1,1757 414,1767.6 420.1,1770.6 421.6,1781.1 424.6,1787.2 433.6,1785.7 444.2,1800.7 443.3,1802.8 432.1,1791.7M344.8,1552.2 353.8,1549.2 351.7,1559.8 355.3,1565.8 349.3,1563.7 343.3,1555.2 344.8,1552.2M475.8,1495 477.3,1507 487.8,1522.1 489.3,1529.6 496.9,1544.7 507.4,1552.2 511.9,1564.3 516.4,1574.8 522.5,1582.3 531.5,1589.9 539,1587.8 554.1,1594.4 548.1,1601.9 545.7,1611 546.6,1621.5 551.1,1632 558.6,1641.1 569.2,1645.6 576.7,1650.1 577.6,1662.2 581.2,1672.7 587.2,1677.2 597.8,1678.1 603.8,1686.3 608.9,1693.8 609.8,1702.8 614.3,1710.4 608.3,1707.3 600.8,1713.4 593.9,1720.9 593.3,1739 596.3,1746.5 602.3,1751 612.8,1749.5 621.9,1745 620.4,1749.5 609.8,1757 609.8,1760.7 624.9,1758.6 625.8,1766.1 632.4,1772.1 641.4,1779.6 650.5,1787.2 664,1794.7 661,1798.6 650.5,1793.2 655,1803.7 662.5,1814.3 661.9,1821.8 667,1827.8 677.6,1833.9 689.6,1836.9 689,1845.9 674.6,1836 692.7,1853.4 710.7,1870 718.3,1880.5 725.8,1895.6 734.8,1909.2 742.3,1927.2 748.4,1937.8 752.9,1943.8M1449.9,1568.8 1434.8,1577.8 1422.8,1585.4 1413.7,1592.9 1431.8,1582.3 1436.3,1579.3 1428.8,1573.3 1422.8,1567.3 1421.3,1558.3 1428.8,1556.7 1433.3,1553.7 1437.8,1556.7 1436.3,1565.8 1449.9,1567.3M1452.9,1567.3 1434.8,1577.8 1413.7,1594.4 1404.7,1603.4 1392.7,1611 1382.1,1618.5 1371.6,1624.5 1362.5,1629 1353.5,1635.1 1367,1626 1355,1624.5 1346,1624.5 1341.4,1627.5 1335.4,1620 1331.8,1621.5 1335.4,1630.5 1339.9,1636.6 1344.5,1642.6 1332.4,1644.1 1324.9,1638.1 1321.9,1645.6 1320.4,1657.7 1314.3,1651.6 1302.3,1654.6 1303.8,1660.7 1308.3,1659.2 1306.8,1666.7 1297.8,1672.7 1287.2,1675.7 1293.3,1683.3 1306.8,1677.2 1300.8,1684.8 1293.3,1695.3 1288.7,1705.8 1284.2,1707.3 1275.2,1704.3 1266.1,1698.3 1270.7,1708.9 1281.2,1711.9 1282.7,1719.4 1278.2,1729.9 1281.2,1745 1284.2,1760.1 1290.2,1773.6 1296.3,1784.2 1297.8,1791.7M1306.8,1677.2 1296.3,1693.8 1290.2,1711.9 1288.7,1729.9 1290.8,1745 1294.8,1760.1 1298.7,1778.1 1299.3,1791.7M1353.5,1635.1 1341.4,1642.6 1329.4,1650.1 1317.3,1659.2 1309.8,1669.7M1299.3,1791.7 1299.3,1805.2 1296.3,1815.8 1290.2,1826.3 1284.2,1838.4 1278.2,1853.4 1273.7,1868.5 1269.2,1886.6 1264.6,1907.7 1262.5,1925.7 1261.6,1943.8M730,1903.1 736,1913.7 742,1928.7 752.6,1940.8 757.1,1945.3M1430,1585.4 1436,1577.8 1445.1,1571.8 1457.1,1565.8 1469.2,1559.8 1482.7,1556.7 1484.2,1549.2 1488.7,1541.7 1481.2,1552.2 1493.3,1553.7 1505.3,1552.2 1517.3,1550.7 1529.4,1553.7 1538.4,1558.3 1547.5,1561.9 1559.5,1563.7 1571.6,1564.3 1580.6,1561.9 1586.6,1559.8 1580.6,1553.7 1585.1,1549.2 1592.7,1545.6 1595.7,1549.2 1604.7,1549.8 1610.7,1556.7 1616.7,1562.8 1624.3,1564.3 1628.8,1560.7 1630.3,1568.8 1636.3,1574.8 1627.3,1576.3 1634.8,1579.9 1643.9,1583 1654.4,1585.4 1661.9,1585.4 1666.4,1577.8 1672.5,1574.8 1680,1575.7 1684.5,1580.8 1687.5,1586.9 1693.6,1583.9 1695.7,1574.8 1696.6,1564.3 1689,1558.9 1701.1,1562.8 1710.1,1568.8 1720.7,1571.8 1728.2,1574.8 1734.2,1582.3 1737.2,1589.9 1741.7,1583.9 1747.8,1585.4 1753.8,1576.3 1744.8,1568.8 1734.2,1567.3 1723.7,1562.8 1716.1,1556.7 1713.1,1550.7 1720.7,1544.7 1731.2,1540.2 1731.2,1532.7 1726.7,1525.1 1719.2,1525.1 1719.2,1532.7 1711.6,1532.7 1705.6,1526.6 1713.1,1520.6 1711.6,1514.6 1723.7,1513.1 1731.2,1505.5 1743.3,1502.5 1755.3,1498 1764.3,1499.5 1779.4,1498 1796,1495M1672.5,1520.6 1680,1507 1689,1506.4 1698.1,1511.6 1710.1,1514.6 1705.6,1520.6 1695.1,1525.1 1686,1528.1 1678.5,1525.1 1672.5,1520.6M1764.3,1507.7 1773.4,1510.1M1786.9,1507.7 1799,1505.5M1803.5,1504.6 1821.6,1501.6M1756.8,1520.6 1761.3,1531.1 1759.8,1540.2 1755.3,1546.8M1728.2,1523.6 1737.2,1516.7 1738.7,1523.6 1731.2,1525.1M1911.9,1495 1924,1496.5 1936,1505.5 1945.1,1511.6 1946.6,1520.6 1951.1,1524.5 1963.1,1521.5 1975.2,1516.7 1984.2,1516.7 1972.2,1525.1 1964.6,1525.1 1981.2,1517.6 1987.2,1511.6 1997.8,1505.5 2003.8,1499.5 2002.3,1495M2035.4,1495 2044.5,1502.5 2056.5,1514.6 2065.5,1522.1 2077.6,1529.6 2089.6,1537.2 2098.7,1543.2 2106.2,1552.2 2107.7,1564.3 2110.1,1577.8 2107.7,1594.4 2106.2,1609.5 2105.3,1618.5 2110.7,1626 2118.3,1624.5 2119.8,1617 2113.7,1609.5 2122.8,1614 2130.3,1612.5 2131.8,1617 2125.8,1627.5 2121.3,1638.1 2116.7,1640.2 2122.8,1644.1 2128.8,1653.1 2136.3,1663.7 2143.9,1672.7 2149.9,1675.7M2178.2,1495 2187.2,1507 2197.8,1520.6 2208.3,1532.7 2218.9,1544.7 2227.9,1556.7 2229.4,1570.3 2233.9,1588.4 2241.4,1598.9 2249,1611 2256.5,1623 2262.5,1632 2267,1639.6 2271.6,1648.6 2275.2,1659.2 2277.6,1669.7 2279.1,1681.7 2279.1,1696.8 2280.6,1707.3 2282.1,1717.9 2278.2,1719.4 2276.1,1729.9 2274,1736 2274.6,1748 2271.6,1757 2265.5,1763.1 2258,1767.6 2250.5,1769.1 2244.5,1767.6 2235.4,1773.6 2229.4,1770.6 2227.9,1764.6M2227.9,1764.6 2223.4,1754 2215.8,1745 2211.3,1736 2209.8,1733 2202.3,1729.9 2193.3,1728.4 2185.7,1722.4 2179.7,1711.9 2175.2,1699.8 2172.2,1697.4 2169.2,1693.8 2173.7,1684.8 2175.8,1681.7 2169.2,1689.3 2164.6,1699.8 2160.1,1702.8 2155.6,1695.3 2160.1,1690.8 2158.6,1681.7 2161.6,1668.2 2152.6,1669.7 2151.1,1677.2 2145.1,1675.7 2139,1669.7 2133,1660.7 2130,1656.1M2227.9,1764.6 2232.4,1760.1 2239.9,1761.6 2242,1764.6M2206.8,1543.2 2211.3,1555.2 2217.3,1565.8 2226.4,1577.8 2235.4,1591.4 2246,1608 2256.5,1624.5 2262.5,1633.6M2208.9,1544.7 2220.4,1559.8 2226.4,1565.8 2227,1557.7M2155.6,1695.3 2161.6,1701.3 2166.1,1699.8M2279.1,1751 2274.6,1763.1 2268.6,1775.1 2262.5,1783.6M2252.9,1791.4 2255.9,1789.6M2236.9,1799.8 2246,1795.6M2218.9,1801.6 2224,1805.2 2221.9,1808.3M2208.9,1811.3 2213.7,1808.3M2198.7,1817.9 2202.9,1816.1M2111.9,1937.8 2130,1933.3 2148.1,1927.2 2166.1,1921.2 2181.2,1912.2 2196.3,1906.1 2214.3,1906.1 2229.4,1906.1 2244.5,1901.6 2250.5,1906.1 2262.5,1903.1 2283.6,1897.1 2292.7,1903.1 2304.7,1904.6 2319.8,1901 2334.8,1904.6 2346.9,1912.2 2355.9,1919.7 2368,1925.7 2377,1927.2 2389,1924.2 2401.1,1921.2 2411.6,1922.1 2431.2,1927.2 2446.3,1931.7 2458.3,1937.8 2467.3,1940.8 2479.4,1946.8M2346.9,1904.6 2357.4,1908.3 2368,1912.2M2480.9,1937.8 2494.5,1940.8M2190.2,1940.8 2208.3,1938.4 2226.4,1938.4M2334.8,1901 2336.3,1905.2M1797.5,1482.7 1800.5,1476.7 1805,1482.7 1806.5,1491.7 1812.5,1499.3 1821.6,1497.8 1830.6,1499.3 1832.1,1491.7 1845.7,1488.7 1847.2,1482.7 1854.7,1479.7 1857.7,1485.7 1848.7,1493.3 1860.7,1491.7 1872.8,1488.7 1881.8,1482.7 1893.9,1480.3 1904.4,1482.7 1887.8,1486.3 1899.9,1490.2 1911.9,1493.3 1924,1494.8 1930,1488.7 1931.5,1497.8M1993.3,1506.8 2002.3,1493.3 2017.3,1488.7 2032.4,1493.3 2044.5,1500.8 2049,1506.8M2148.4,1386.3 2146.3,1401.4 2148.4,1416.4 2149.9,1431.5M2347.1,980.7 2344.4,976 2341.7,968 2340.4,957.3 2341.7,946.5 2345.8,937.2 2348.4,929.1 2349.8,923.8 2345.8,926.5 2340.4,930.5 2337.7,923.8 2333.7,919.8 2332.4,914.4 2333.7,906.4 2328.4,910.4 2323,913.1 2316.3,910.4 2311,903.7 2309.6,897 2315,893 2323,893.7 2316.3,890.3 2309.6,886.3 2305.6,889 2304.3,882.3 2306.9,876.9 2301.6,874.3 2302.9,868.9 2308.3,864.9 2305.6,859.5 2304.3,852.8 2306.9,847.5 2309.6,843.5 2315,844.8 2312.3,839.5 2308.3,835.4 2305.6,836.8 2304.3,842.1 2300.2,846.1 2296.2,848.8 2293.5,854.2 2290.9,859.5 2285.5,860.9 2290.9,863.5 2293.5,867.6 2289.5,872.2 2293.5,875.6 2294.9,882.3 2296.2,890.3 2298.9,898.4 2302.9,906.4 2308.3,911.7M2286.9,922.4 2293.5,923.1 2301.6,924.5 2309.6,926.5 2315,927.8M2285.5,915.8 2293.5,917.1 2301.6,918.4 2308.3,921.1 2313,925.1M2313.6,953.2 2320.3,951.9 2321.7,943.9 2319,937.2 2312.3,933.2 2306.9,930.5 2298.9,927.8 2290.9,927.1 2285.5,925.1M2320.3,951.9 2323,957.3 2327,961.3 2328.4,969.3 2323,972 2323.7,976 2317.6,978.7M2309.6,984 2313.6,986.7 2315,992.1 2320.3,994.7 2327,993.4 2332.4,988 2329.7,982.7 2323,978.7M2320.3,994.7 2323,1000.1 2328.4,997.4 2336.4,994.7 2347.1,994.7"/>
<path class="cst" style="stroke-width:8.5" d="M289.7,180.8 289.2,198.1 289.7,213.1"/>
<path class="cst" style="stroke-width:6" d="M294.3,182.2 296.2,187.8"/>
<path class="cst" style="stroke-width:7" d="M311.2,181.2 315,185.9"/>
<path class="cst" style="stroke-width:9" d="M315.9,222.5 313.1,230.9 315.9,241.2 318.7,251.5 313.1,259 308.4,268.4 305.6,277.8 301.8,288.1 294.3,293.7 287.8,297.4 283.1,294.6 276.5,291.8"/>
<path class="cst" style="stroke-width:6" d="M285,278.2 275.6,277.8 279.3,269.3 289.7,261.8 297.1,257.1 307.5,254.3"/>
<path class="cst" style="stroke-width:6.5" d="M2272.1,886.3 2270.1,893 2266.8,901 2264.1,907.7 2264.1,915.8 2266.8,922.4 2272.1,918.4 2277.5,915.1 2282.8,918.4 2286.9,922.4"/>
<path class="cst" style="stroke-width:5.5" d="M2290.9,901 2293.5,906.4 2298.9,910.4 2305.6,913.1"/>
<path class="cst" style="stroke-width:6.5" d="M2276.8,931.8 2284.2,934.5 2290.9,939.9 2297.6,945.2 2305.6,950.6 2313.6,953.2"/>
<path class="cst" style="stroke-width:6" d="M2302.9,968 2306.9,970.6 2312.3,974.7 2317.6,978.7"/>
<path class="cst" style="stroke-width:6.5" d="M2281.5,984 2289.5,982 2298.9,982.7 2309.6,984"/>
<path class="cst" style="stroke-width:6" d="M2365.8,895.7 2368.5,907.7 2367.2,917.1 2365.2,926.5 2362.5,930.5"/>
<path class="cst" style="stroke-width:6" d="M2333.7,814 2329.7,820.7 2328.4,827.4 2331,834.1 2336.4,840.8"/>
<path class="cst" style="stroke-width:5.5" d="M2302.9,843.5 2306.9,838.1 2311,835.4 2313,840.8"/>
<path class="cst" style="stroke-width:6" d="M2302.9,872.9 2305.6,879.6 2306.9,887.6"/>
<path class="cst" style="stroke-width:6.5" d="M2404.1,345.2 2392,356.6 2374,370.8 2358.9,382.8 2346.9,397.9 2334.8,409.9 2327.3,425 2322.8,443.1"/>
<path class="cst" style="stroke-width:6" d="M2322.8,443.1 2316.7,458.1 2307.7,471.7 2297.2,485.2 2286.6,497.3 2280.6,501.8"/>
<path class="cst" style="stroke-width:6" d="M2426.7,255.7 2413.1,253.9 2395.1,253.9 2380,256.9 2372.5,255.7"/>
<path class="cst" style="stroke-width:6.5" d="M1955.6,193.1 1961.6,185.5 1969.2,179.5"/>
<path class="cst" style="stroke-width:6.5" d="M1990.2,178.6 1997.8,184 2005.3,193.1 2017.3,203.6"/>
<path fill="#000" stroke="#000" stroke-width="3" stroke-linejoin="round" d="M297.1,200.9 303.7,204.7 311.2,202.8 316.8,207.5 313.1,212.2 309.3,220.6 304.6,219.7 300,213.1 295.3,211.2Z"/>
</g>
<rect x="30.2" y="178.2" width="2790.1" height="1763.7" fill="none" stroke="#000" stroke-width="3.3"/>
<g>
<rect x="2994.6" y="1597.3" width="73.7" height="134.9" fill="#053061"/>
<rect x="2994.6" y="1462.9" width="73.7" height="134.9" fill="#256baf"/>
<rect x="2994.6" y="1328.6" width="73.7" height="134.9" fill="#559ec9"/>
<rect x="2994.6" y="1194.2" width="73.7" height="134.9" fill="#a7d0e4"/>
<rect x="2994.6" y="1059.8" width="73.7" height="134.9" fill="#e2edf3"/>
<rect x="2994.6" y="925.4" width="73.7" height="134.9" fill="#fae7dc"/>
<rect x="2994.6" y="791" width="73.7" height="134.9" fill="#f7b799"/>
<rect x="2994.6" y="656.7" width="73.7" height="134.9" fill="#dd6f59"/>
<rect x="2994.6" y="522.3" width="73.7" height="134.9" fill="#b6202f"/>
<rect x="2994.6" y="387.9" width="73.7" height="134.9" fill="#67001f"/>
<path d="M2994.6,1731.7 L3031.4,1798.9 L3068.3,1731.7 Z" fill="#053061"/>
<path d="M2994.6,387.9 L3031.4,321 L3068.3,387.9 Z" fill="#67001f"/>
<path d="M2994.6,1731.7 L3031.4,1798.9 L3068.3,1731.7 L3068.3,387.9 L3031.4,321 L2994.6,387.9 Z" fill="none" stroke="#000" stroke-width="3.3" stroke-linejoin="miter"/>
<line x1="3068.3" y1="1731.7" x2="3084.5" y2="1731.7" stroke="#000" stroke-width="3.3"/>
<text x="3097.3" y="1746.9" font-size="41.67">0.0</text>
<line x1="3068.3" y1="1597.3" x2="3084.5" y2="1597.3" stroke="#000" stroke-width="3.3"/>
<text x="3097.3" y="1612.5" font-size="41.67">0.1</text>
<line x1="3068.3" y1="1462.9" x2="3084.5" y2="1462.9" stroke="#000" stroke-width="3.3"/>
<text x="3097.3" y="1478.1" font-size="41.67">0.2</text>
<line x1="3068.3" y1="1328.6" x2="3084.5" y2="1328.6" stroke="#000" stroke-width="3.3"/>
<text x="3097.3" y="1343.8" font-size="41.67">0.3</text>
<line x1="3068.3" y1="1194.2" x2="3084.5" y2="1194.2" stroke="#000" stroke-width="3.3"/>
<text x="3097.3" y="1209.4" font-size="41.67">0.4</text>
<line x1="3068.3" y1="1059.8" x2="3084.5" y2="1059.8" stroke="#000" stroke-width="3.3"/>
<text x="3097.3" y="1075" font-size="41.67">0.5</text>
<line x1="3068.3" y1="925.4" x2="3084.5" y2="925.4" stroke="#000" stroke-width="3.3"/>
<text x="3097.3" y="940.6" font-size="41.67">0.6</text>
<line x1="3068.3" y1="791" x2="3084.5" y2="791" stroke="#000" stroke-width="3.3"/>
<text x="3097.3" y="806.2" font-size="41.67">0.7</text>
<line x1="3068.3" y1="656.7" x2="3084.5" y2="656.7" stroke="#000" stroke-width="3.3"/>
<text x="3097.3" y="671.9" font-size="41.67">0.8</text>
<line x1="3068.3" y1="522.3" x2="3084.5" y2="522.3" stroke="#000" stroke-width="3.3"/>
<text x="3097.3" y="537.5" font-size="41.67">0.9</text>
<line x1="3068.3" y1="387.9" x2="3084.5" y2="387.9" stroke="#000" stroke-width="3.3"/>
<text x="3097.3" y="403.1" font-size="41.67">1.0</text>
<text transform="translate(3212,1060) rotate(-90)" text-anchor="middle" font-size="41.67">Hit Rate</text>
</g>
</svg>
</body></html>
